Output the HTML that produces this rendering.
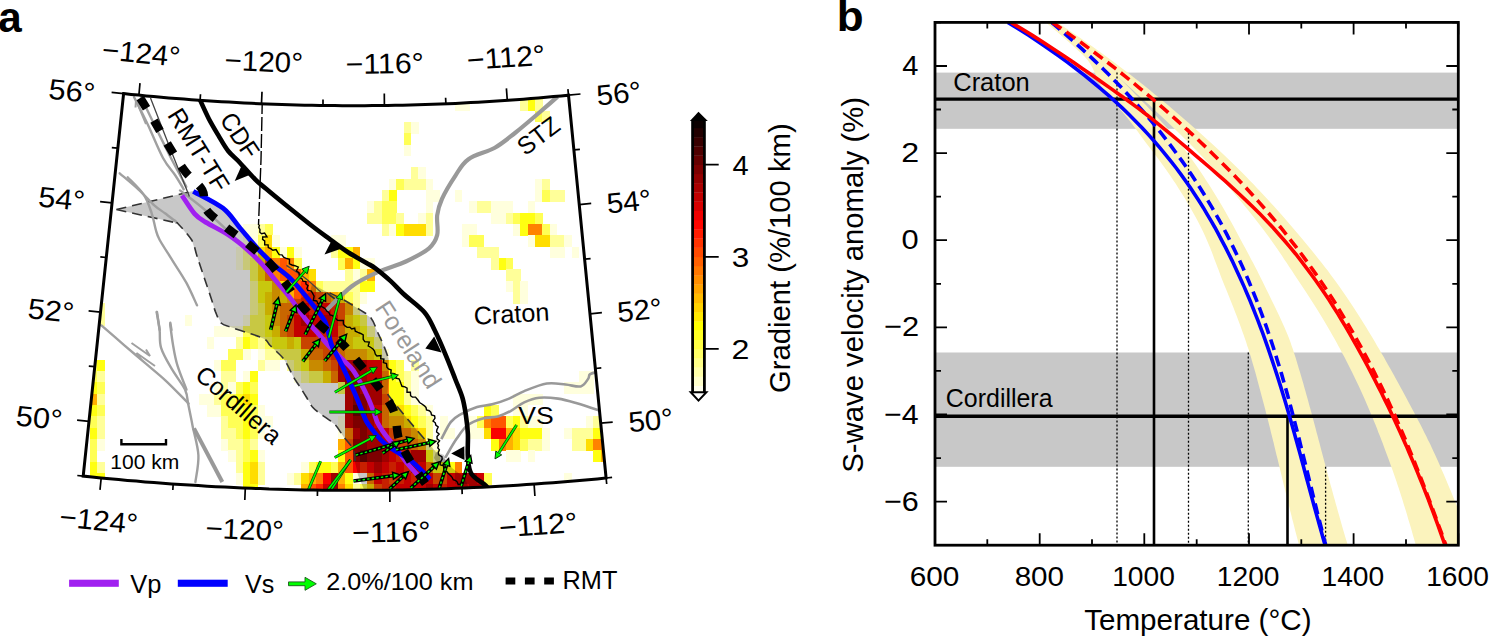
<!DOCTYPE html>
<html><head><meta charset="utf-8"><style>
html,body{margin:0;padding:0;background:#fff;overflow:hidden}
svg{display:block}
</style></head><body>
<svg width="1491" height="637" viewBox="0 0 1491 637">
<rect width="1491" height="637" fill="#fff"/>
<rect x="935.0" y="72.6" width="523.3" height="56.20000000000002" fill="#c8c8c8"/>
<rect x="935.0" y="352.5" width="523.3" height="114.30000000000001" fill="#c8c8c8"/>
<clipPath id="cb"><rect x="935.0" y="22.4" width="523.3" height="522.8000000000001"/></clipPath>
<g clip-path="url(#cb)">
<path d="M1046.0,22.4 L1050.5,26.2 L1054.9,29.9 L1059.3,33.7 L1063.6,37.4 L1067.9,41.2 L1072.1,45.0 L1076.2,48.7 L1080.3,52.5 L1084.3,56.3 L1087.6,60.0 L1090.2,63.8 L1092.3,67.5 L1094.1,71.3 L1095.8,75.1 L1097.4,78.8 L1099.2,82.6 L1101.2,86.3 L1103.4,90.1 L1106.0,93.9 L1109.0,97.6 L1112.3,101.4 L1116.0,105.1 L1119.6,108.9 L1123.0,112.7 L1126.2,116.4 L1129.2,120.2 L1132.1,124.0 L1134.9,127.7 L1137.7,131.5 L1140.4,135.2 L1143.1,139.0 L1145.9,142.8 L1148.8,146.5 L1151.7,150.3 L1154.6,154.0 L1157.4,157.8 L1160.2,161.6 L1162.9,165.3 L1165.6,169.1 L1168.2,172.8 L1170.8,176.6 L1173.4,180.4 L1175.9,184.1 L1178.3,187.9 L1180.7,191.7 L1183.1,195.4 L1185.4,199.2 L1187.6,202.9 L1189.8,206.7 L1191.9,210.5 L1194.0,214.2 L1196.1,218.0 L1198.1,221.7 L1200.0,225.5 L1201.9,229.3 L1203.7,233.0 L1205.4,236.8 L1207.0,240.5 L1208.6,244.3 L1210.2,248.1 L1211.7,251.8 L1213.1,255.6 L1214.5,259.4 L1215.9,263.1 L1217.4,266.9 L1218.8,270.6 L1220.2,274.4 L1221.6,278.2 L1223.1,281.9 L1224.6,285.7 L1226.2,289.4 L1227.7,293.2 L1229.2,297.0 L1230.7,300.7 L1232.2,304.5 L1233.7,308.2 L1235.1,312.0 L1236.6,315.8 L1238.0,319.5 L1239.4,323.3 L1240.8,327.1 L1242.1,330.8 L1243.5,334.6 L1244.8,338.3 L1246.1,342.1 L1247.3,345.9 L1248.6,349.6 L1249.8,353.4 L1250.9,357.1 L1252.0,360.9 L1253.1,364.7 L1254.2,368.4 L1255.3,372.2 L1256.3,375.9 L1257.3,379.7 L1258.3,383.5 L1259.3,387.2 L1260.3,391.0 L1261.3,394.8 L1262.3,398.5 L1263.3,402.3 L1264.3,406.0 L1265.3,409.8 L1266.2,413.6 L1267.2,417.3 L1268.2,421.1 L1269.1,424.8 L1270.1,428.6 L1271.0,432.4 L1271.9,436.1 L1272.9,439.9 L1273.8,443.6 L1274.7,447.4 L1275.6,451.2 L1276.5,454.9 L1277.5,458.7 L1278.4,462.5 L1279.3,466.2 L1280.2,470.0 L1281.1,473.7 L1282.0,477.5 L1282.9,481.3 L1283.8,485.0 L1284.8,488.8 L1285.7,492.5 L1286.6,496.3 L1287.5,500.1 L1288.5,503.8 L1289.4,507.6 L1290.3,511.3 L1291.3,515.1 L1292.2,518.9 L1293.2,522.6 L1294.2,526.4 L1295.1,530.2 L1296.1,533.9 L1297.1,537.7 L1298.1,541.4 L1299.1,545.2 L1347.8,545.2 L1346.7,541.4 L1345.5,537.7 L1344.4,533.9 L1343.3,530.2 L1342.2,526.4 L1341.1,522.6 L1340.1,518.9 L1339.0,515.1 L1337.9,511.3 L1336.9,507.6 L1335.8,503.8 L1334.8,500.1 L1333.7,496.3 L1332.7,492.5 L1331.7,488.8 L1330.6,485.0 L1329.6,481.3 L1328.6,477.5 L1327.6,473.7 L1326.6,470.0 L1325.6,466.2 L1324.6,462.5 L1323.6,458.7 L1322.6,454.9 L1321.6,451.2 L1320.6,447.4 L1319.6,443.6 L1318.6,439.9 L1317.6,436.1 L1316.6,432.4 L1315.6,428.6 L1314.6,424.8 L1313.6,421.1 L1312.6,417.3 L1311.6,413.6 L1310.6,409.8 L1309.5,406.0 L1308.5,402.3 L1307.5,398.5 L1306.4,394.8 L1305.4,391.0 L1304.3,387.2 L1303.3,383.5 L1302.2,379.7 L1301.1,375.9 L1300.0,372.2 L1298.8,368.4 L1297.7,364.7 L1296.6,360.9 L1295.4,357.1 L1294.2,353.4 L1293.0,349.6 L1291.7,345.9 L1290.4,342.1 L1289.0,338.3 L1287.5,334.6 L1285.9,330.8 L1284.3,327.1 L1282.6,323.3 L1280.9,319.5 L1279.2,315.8 L1277.4,312.0 L1275.6,308.2 L1273.8,304.5 L1271.9,300.7 L1270.1,297.0 L1268.3,293.2 L1266.4,289.4 L1264.6,285.7 L1262.8,281.9 L1260.9,278.2 L1259.0,274.4 L1257.1,270.6 L1255.2,266.9 L1253.2,263.1 L1251.2,259.4 L1249.2,255.6 L1247.2,251.8 L1245.2,248.1 L1243.1,244.3 L1241.1,240.5 L1239.1,236.8 L1237.1,233.0 L1235.1,229.3 L1233.1,225.5 L1231.0,221.7 L1228.9,218.0 L1226.8,214.2 L1224.7,210.5 L1222.5,206.7 L1220.3,202.9 L1218.0,199.2 L1215.7,195.4 L1213.4,191.7 L1211.1,187.9 L1208.6,184.1 L1206.2,180.4 L1203.7,176.6 L1201.2,172.8 L1198.7,169.1 L1196.1,165.3 L1193.4,161.6 L1190.7,157.8 L1188.0,154.0 L1185.2,150.3 L1182.4,146.5 L1179.5,142.8 L1176.5,139.0 L1173.4,135.2 L1170.2,131.5 L1166.9,127.7 L1163.5,124.0 L1160.1,120.2 L1156.6,116.4 L1153.0,112.7 L1149.5,108.9 L1145.9,105.1 L1142.3,101.4 L1138.7,97.6 L1135.0,93.9 L1131.3,90.1 L1127.6,86.3 L1123.8,82.6 L1120.0,78.8 L1116.1,75.1 L1112.1,71.3 L1108.2,67.5 L1104.1,63.8 L1100.0,60.0 L1095.9,56.3 L1091.7,52.5 L1087.5,48.7 L1083.2,45.0 L1078.9,41.2 L1074.5,37.4 L1070.1,33.7 L1065.6,29.9 L1061.1,26.2 L1056.5,22.4Z" fill="#fbf3bd"/>
<path d="M1047.3,22.4 L1052.7,26.2 L1057.9,29.9 L1063.1,33.7 L1068.3,37.4 L1073.3,41.2 L1078.3,45.0 L1083.2,48.7 L1088.0,52.5 L1092.8,56.3 L1097.5,60.0 L1102.1,63.8 L1106.7,67.5 L1111.2,71.3 L1115.6,75.1 L1120.0,78.8 L1124.3,82.6 L1128.6,86.3 L1132.8,90.1 L1137.0,93.9 L1141.1,97.6 L1145.3,101.4 L1149.4,105.1 L1153.5,108.9 L1157.5,112.7 L1161.6,116.4 L1165.6,120.2 L1169.5,124.0 L1173.5,127.7 L1177.4,131.5 L1181.2,135.2 L1185.0,139.0 L1188.8,142.8 L1192.5,146.5 L1196.2,150.3 L1199.8,154.0 L1203.3,157.8 L1206.8,161.6 L1210.2,165.3 L1213.5,169.1 L1216.8,172.8 L1220.1,176.6 L1223.3,180.4 L1226.5,184.1 L1229.7,187.9 L1232.9,191.7 L1236.0,195.4 L1239.1,199.2 L1242.3,202.9 L1245.3,206.7 L1248.4,210.5 L1251.4,214.2 L1254.4,218.0 L1257.3,221.7 L1260.2,225.5 L1263.1,229.3 L1265.9,233.0 L1268.7,236.8 L1271.4,240.5 L1274.0,244.3 L1276.7,248.1 L1279.2,251.8 L1281.8,255.6 L1284.3,259.4 L1286.8,263.1 L1289.3,266.9 L1291.8,270.6 L1294.3,274.4 L1296.8,278.2 L1299.3,281.9 L1301.8,285.7 L1304.3,289.4 L1306.8,293.2 L1309.2,297.0 L1311.6,300.7 L1314.0,304.5 L1316.4,308.2 L1318.7,312.0 L1321.0,315.8 L1323.3,319.5 L1325.5,323.3 L1327.7,327.1 L1329.9,330.8 L1332.0,334.6 L1334.2,338.3 L1336.3,342.1 L1338.4,345.9 L1340.4,349.6 L1342.4,353.4 L1344.4,357.1 L1346.4,360.9 L1348.3,364.7 L1350.2,368.4 L1352.1,372.2 L1353.9,375.9 L1355.7,379.7 L1357.5,383.5 L1359.3,387.2 L1361.0,391.0 L1362.7,394.8 L1364.4,398.5 L1366.0,402.3 L1367.6,406.0 L1369.2,409.8 L1370.8,413.6 L1372.4,417.3 L1373.9,421.1 L1375.5,424.8 L1377.0,428.6 L1378.4,432.4 L1379.9,436.1 L1381.4,439.9 L1382.8,443.6 L1384.2,447.4 L1385.6,451.2 L1387.0,454.9 L1388.4,458.7 L1389.8,462.5 L1391.1,466.2 L1392.5,470.0 L1393.8,473.7 L1395.1,477.5 L1396.4,481.3 L1397.6,485.0 L1398.9,488.8 L1400.1,492.5 L1401.3,496.3 L1402.5,500.1 L1403.6,503.8 L1404.8,507.6 L1406.0,511.3 L1407.1,515.1 L1408.2,518.9 L1409.3,522.6 L1410.5,526.4 L1411.6,530.2 L1412.6,533.9 L1413.7,537.7 L1414.8,541.4 L1415.9,545.2 L1471.9,545.2 L1470.5,541.4 L1469.1,537.7 L1467.7,533.9 L1466.3,530.2 L1464.8,526.4 L1463.4,522.6 L1461.9,518.9 L1460.5,515.1 L1459.0,511.3 L1457.5,507.6 L1456.0,503.8 L1454.4,500.1 L1452.9,496.3 L1451.4,492.5 L1449.8,488.8 L1448.2,485.0 L1446.7,481.3 L1445.1,477.5 L1443.5,473.7 L1441.8,470.0 L1440.2,466.2 L1438.6,462.5 L1436.9,458.7 L1435.2,454.9 L1433.4,451.2 L1431.7,447.4 L1429.9,443.6 L1428.0,439.9 L1426.2,436.1 L1424.3,432.4 L1422.4,428.6 L1420.5,424.8 L1418.5,421.1 L1416.6,417.3 L1414.6,413.6 L1412.6,409.8 L1410.6,406.0 L1408.6,402.3 L1406.6,398.5 L1404.6,394.8 L1402.6,391.0 L1400.5,387.2 L1398.5,383.5 L1396.4,379.7 L1394.4,375.9 L1392.3,372.2 L1390.2,368.4 L1388.0,364.7 L1385.9,360.9 L1383.8,357.1 L1381.6,353.4 L1379.4,349.6 L1377.2,345.9 L1375.0,342.1 L1372.8,338.3 L1370.5,334.6 L1368.2,330.8 L1366.0,327.1 L1363.6,323.3 L1361.3,319.5 L1358.9,315.8 L1356.5,312.0 L1354.1,308.2 L1351.6,304.5 L1349.1,300.7 L1346.6,297.0 L1344.0,293.2 L1341.4,289.4 L1338.8,285.7 L1336.1,281.9 L1333.3,278.2 L1330.5,274.4 L1327.7,270.6 L1324.8,266.9 L1321.8,263.1 L1318.9,259.4 L1315.8,255.6 L1312.8,251.8 L1309.7,248.1 L1306.6,244.3 L1303.5,240.5 L1300.4,236.8 L1297.2,233.0 L1294.0,229.3 L1290.8,225.5 L1287.6,221.7 L1284.4,218.0 L1281.1,214.2 L1277.7,210.5 L1274.4,206.7 L1270.9,202.9 L1267.5,199.2 L1264.0,195.4 L1260.5,191.7 L1256.9,187.9 L1253.3,184.1 L1249.7,180.4 L1246.0,176.6 L1242.3,172.8 L1238.5,169.1 L1234.7,165.3 L1230.8,161.6 L1226.9,157.8 L1223.0,154.0 L1219.0,150.3 L1215.0,146.5 L1210.9,142.8 L1206.7,139.0 L1202.6,135.2 L1198.4,131.5 L1194.1,127.7 L1189.9,124.0 L1185.5,120.2 L1181.2,116.4 L1176.8,112.7 L1172.4,108.9 L1167.9,105.1 L1163.4,101.4 L1158.9,97.6 L1154.3,93.9 L1149.7,90.1 L1145.0,86.3 L1140.3,82.6 L1135.5,78.8 L1130.7,75.1 L1125.9,71.3 L1120.9,67.5 L1116.0,63.8 L1111.0,60.0 L1105.9,56.3 L1100.7,52.5 L1095.5,48.7 L1090.3,45.0 L1085.0,41.2 L1079.6,37.4 L1074.1,33.7 L1068.6,29.9 L1063.0,26.2 L1057.4,22.4Z" fill="#fbf3bd"/>
</g>
<line x1="935.0" x2="1458.3" y1="99.1" y2="99.1" stroke="#000" stroke-width="3.4"/>
<line x1="935.0" x2="1458.3" y1="416.3" y2="416.3" stroke="#000" stroke-width="3.4"/>
<line x1="1117" x2="1117" y1="72.6" y2="545.2" stroke="#000" stroke-width="1.3" stroke-dasharray="2 2"/>
<line x1="1154" x2="1154" y1="99.1" y2="545.2" stroke="#000" stroke-width="2.6"/>
<line x1="1188.5" x2="1188.5" y1="128.8" y2="545.2" stroke="#000" stroke-width="1.3" stroke-dasharray="2 2"/>
<line x1="1248.3" x2="1248.3" y1="352.5" y2="545.2" stroke="#000" stroke-width="1.3" stroke-dasharray="2 2"/>
<line x1="1287.5" x2="1287.5" y1="416.3" y2="545.2" stroke="#000" stroke-width="2.6"/>
<line x1="1325.6" x2="1325.6" y1="466.8" y2="545.2" stroke="#000" stroke-width="1.3" stroke-dasharray="2 2"/>
<g clip-path="url(#cb)" fill="none" stroke-width="3.6">
<path d="M1051.5,22.4 L1059.3,29.0 L1067.0,35.6 L1074.5,42.3 L1081.9,48.9 L1089.1,55.5 L1096.1,62.1 L1102.9,68.7 L1109.5,75.3 L1116.0,82.0 L1122.4,88.6 L1128.6,95.2 L1134.6,101.8 L1140.5,108.4 L1146.2,115.0 L1151.8,121.7 L1157.2,128.3 L1162.5,134.9 L1167.6,141.5 L1172.6,148.1 L1177.5,154.8 L1182.3,161.4 L1186.9,168.0 L1191.4,174.6 L1195.8,181.2 L1200.0,187.8 L1204.2,194.5 L1208.2,201.1 L1212.1,207.7 L1215.9,214.3 L1219.6,220.9 L1223.2,227.5 L1226.7,234.2 L1230.0,240.8 L1233.3,247.4 L1236.5,254.0 L1239.6,260.6 L1242.7,267.3 L1245.6,273.9 L1248.5,280.5 L1251.2,287.1 L1253.9,293.7 L1256.6,300.3 L1259.1,307.0 L1261.6,313.6 L1264.0,320.2 L1266.4,326.8 L1268.6,333.4 L1270.9,340.1 L1273.1,346.7 L1275.2,353.3 L1277.2,359.9 L1279.3,366.5 L1281.3,373.1 L1283.2,379.8 L1285.1,386.4 L1287.0,393.0 L1288.8,399.6 L1290.6,406.2 L1292.3,412.8 L1294.1,419.5 L1295.8,426.1 L1297.5,432.7 L1299.2,439.3 L1300.8,445.9 L1302.5,452.6 L1304.1,459.2 L1305.8,465.8 L1307.4,472.4 L1309.0,479.0 L1310.7,485.6 L1312.3,492.3 L1313.9,498.9 L1315.6,505.5 L1317.2,512.1 L1318.9,518.7 L1320.6,525.3 L1322.3,532.0 L1324.0,538.6 L1325.8,545.2" stroke="#0000ff" stroke-dasharray="11 6"/>
<path d="M1052.3,22.4 L1062.0,29.0 L1071.4,35.6 L1080.7,42.3 L1089.7,48.9 L1098.5,55.5 L1107.2,62.1 L1115.7,68.7 L1124.0,75.3 L1132.2,82.0 L1140.2,88.6 L1148.1,95.2 L1155.9,101.8 L1163.5,108.4 L1171.0,115.0 L1178.4,121.7 L1185.6,128.3 L1192.8,134.9 L1199.9,141.5 L1206.8,148.1 L1213.6,154.8 L1220.4,161.4 L1227.0,168.0 L1233.4,174.6 L1239.8,181.2 L1246.0,187.8 L1252.1,194.5 L1258.1,201.1 L1263.9,207.7 L1269.6,214.3 L1275.2,220.9 L1280.7,227.5 L1286.0,234.2 L1291.2,240.8 L1296.4,247.4 L1301.4,254.0 L1306.2,260.6 L1311.0,267.3 L1315.7,273.9 L1320.3,280.5 L1324.7,287.1 L1329.1,293.7 L1333.4,300.3 L1337.6,307.0 L1341.6,313.6 L1345.6,320.2 L1349.6,326.8 L1353.4,333.4 L1357.1,340.1 L1360.8,346.7 L1364.4,353.3 L1367.9,359.9 L1371.4,366.5 L1374.7,373.1 L1378.0,379.8 L1381.3,386.4 L1384.5,393.0 L1387.6,399.6 L1390.6,406.2 L1393.7,412.8 L1396.6,419.5 L1399.5,426.1 L1402.4,432.7 L1405.2,439.3 L1407.9,445.9 L1410.7,452.6 L1413.4,459.2 L1416.0,465.8 L1418.6,472.4 L1421.2,479.0 L1423.8,485.6 L1426.3,492.3 L1428.8,498.9 L1431.3,505.5 L1433.8,512.1 L1436.2,518.7 L1438.6,525.3 L1441.1,532.0 L1443.5,538.6 L1445.9,545.2" stroke="#ff0000" stroke-dasharray="11 6"/>
<path d="M1007.9,22.4 L1018.6,29.0 L1029.0,35.6 L1039.0,42.3 L1048.8,48.9 L1058.2,55.5 L1067.2,62.1 L1076.0,68.7 L1084.5,75.3 L1092.7,82.0 L1100.6,88.6 L1108.2,95.2 L1115.6,101.8 L1122.7,108.4 L1129.5,115.0 L1136.1,121.7 L1142.5,128.3 L1148.6,134.9 L1154.5,141.5 L1160.2,148.1 L1165.7,154.8 L1171.0,161.4 L1176.2,168.0 L1181.1,174.6 L1185.8,181.2 L1190.4,187.8 L1194.8,194.5 L1199.1,201.1 L1203.3,207.7 L1207.2,214.3 L1211.1,220.9 L1214.9,227.5 L1218.5,234.2 L1222.0,240.8 L1225.5,247.4 L1228.8,254.0 L1232.1,260.6 L1235.2,267.3 L1238.3,273.9 L1241.3,280.5 L1244.3,287.1 L1247.1,293.7 L1249.9,300.3 L1252.6,307.0 L1255.2,313.6 L1257.8,320.2 L1260.3,326.8 L1262.8,333.4 L1265.2,340.1 L1267.5,346.7 L1269.8,353.3 L1272.0,359.9 L1274.2,366.5 L1276.4,373.1 L1278.5,379.8 L1280.6,386.4 L1282.6,393.0 L1284.6,399.6 L1286.6,406.2 L1288.5,412.8 L1290.4,419.5 L1292.3,426.1 L1294.2,432.7 L1296.0,439.3 L1297.8,445.9 L1299.7,452.6 L1301.5,459.2 L1303.3,465.8 L1305.0,472.4 L1306.8,479.0 L1308.6,485.6 L1310.4,492.3 L1312.2,498.9 L1314.0,505.5 L1315.8,512.1 L1317.7,518.7 L1319.5,525.3 L1321.4,532.0 L1323.2,538.6 L1325.1,545.2" stroke="#0000ff"/>
<path d="M1011.0,22.4 L1022.1,29.0 L1032.8,35.6 L1043.2,42.3 L1053.4,48.9 L1063.3,55.5 L1073.0,62.1 L1082.6,68.7 L1092.2,75.3 L1101.6,82.0 L1111.0,88.6 L1120.3,95.2 L1129.4,101.8 L1138.3,108.4 L1147.0,115.0 L1155.4,121.7 L1163.6,128.3 L1171.6,134.9 L1179.4,141.5 L1187.2,148.1 L1194.9,154.8 L1202.6,161.4 L1210.3,168.0 L1217.8,174.6 L1225.3,181.2 L1232.6,187.8 L1239.8,194.5 L1246.8,201.1 L1253.7,207.7 L1260.3,214.3 L1266.7,220.9 L1272.9,227.5 L1278.8,234.2 L1284.6,240.8 L1290.2,247.4 L1295.7,254.0 L1300.9,260.6 L1306.0,267.3 L1310.9,273.9 L1315.7,280.5 L1320.4,287.1 L1324.9,293.7 L1329.3,300.3 L1333.5,307.0 L1337.7,313.6 L1341.7,320.2 L1345.7,326.8 L1349.5,333.4 L1353.3,340.1 L1357.0,346.7 L1360.7,353.3 L1364.3,359.9 L1367.8,366.5 L1371.3,373.1 L1374.8,379.8 L1378.1,386.4 L1381.5,393.0 L1384.7,399.6 L1388.0,406.2 L1391.1,412.8 L1394.3,419.5 L1397.3,426.1 L1400.4,432.7 L1403.3,439.3 L1406.3,445.9 L1409.1,452.6 L1412.0,459.2 L1414.8,465.8 L1417.5,472.4 L1420.2,479.0 L1422.9,485.6 L1425.5,492.3 L1428.1,498.9 L1430.6,505.5 L1433.1,512.1 L1435.5,518.7 L1438.0,525.3 L1440.3,532.0 L1442.7,538.6 L1445.0,545.2" stroke="#ff0000"/>
</g>
<rect x="935.0" y="22.4" width="523.3" height="522.8000000000001" fill="none" stroke="#000" stroke-width="2.8"/>
<path d="M935.0,545.2v-12M935.0,22.4v12M987.3,545.2v-6M987.3,22.4v6M1039.7,545.2v-12M1039.7,22.4v12M1092.0,545.2v-6M1092.0,22.4v6M1144.3,545.2v-12M1144.3,22.4v12M1196.7,545.2v-6M1196.7,22.4v6M1249.0,545.2v-12M1249.0,22.4v12M1301.3,545.2v-6M1301.3,22.4v6M1353.6,545.2v-12M1353.6,22.4v12M1406.0,545.2v-6M1406.0,22.4v6M1458.3,545.2v-12M1458.3,22.4v12M935.0,545.2h6M1458.3,545.2h-6M935.0,501.6h12M1458.3,501.6h-12M935.0,458.1h6M1458.3,458.1h-6M935.0,414.5h12M1458.3,414.5h-12M935.0,370.9h6M1458.3,370.9h-6M935.0,327.4h12M1458.3,327.4h-12M935.0,283.8h6M1458.3,283.8h-6M935.0,240.2h12M1458.3,240.2h-12M935.0,196.7h6M1458.3,196.7h-6M935.0,153.1h12M1458.3,153.1h-12M935.0,109.5h6M1458.3,109.5h-6M935.0,66.0h12M1458.3,66.0h-12M935.0,22.4h6M1458.3,22.4h-6" stroke="#000" stroke-width="1.8" fill="none"/>
<clipPath id="cmap"><path d="M123.6,93.6 L131.1,94.4 L138.6,95.1 L146.1,95.9 L153.6,96.6 L161.2,97.2 L168.7,97.9 L176.2,98.5 L183.8,99.1 L191.3,99.7 L198.8,100.2 L206.4,100.7 L213.9,101.2 L221.4,101.7 L229.0,102.1 L236.5,102.6 L244.1,103.0 L251.6,103.3 L259.2,103.7 L266.7,104.0 L274.3,104.3 L281.8,104.5 L289.4,104.8 L296.9,105.0 L304.5,105.2 L312.0,105.3 L319.6,105.4 L327.1,105.5 L334.7,105.6 L342.2,105.7 L349.8,105.7 L357.3,105.7 L364.9,105.7 L372.4,105.6 L380.0,105.6 L387.6,105.5 L395.1,105.3 L402.7,105.2 L410.2,105.0 L417.8,104.8 L425.3,104.6 L432.9,104.3 L440.4,104.0 L448.0,103.7 L455.5,103.4 L463.1,103.0 L470.6,102.6 L478.1,102.2 L485.7,101.8 L493.2,101.3 L500.8,100.8 L508.3,100.3 L515.8,99.7 L523.4,99.2 L530.9,98.6 L538.4,98.0 L546.0,97.3 L553.5,96.6 L561.0,95.9 L568.5,95.2 L606.1,478.0 L597.3,478.9 L588.4,479.7 L579.6,480.5 L570.7,481.2 L561.9,482.0 L553.0,482.7 L544.2,483.3 L535.3,484.0 L526.5,484.6 L517.6,485.2 L508.8,485.7 L499.9,486.2 L491.0,486.7 L482.2,487.2 L473.3,487.6 L464.4,488.0 L455.6,488.3 L446.7,488.7 L437.8,489.0 L428.9,489.3 L420.1,489.5 L411.2,489.7 L402.3,489.9 L393.4,490.0 L384.6,490.2 L375.7,490.3 L366.8,490.3 L357.9,490.3 L349.0,490.3 L340.2,490.3 L331.3,490.2 L322.4,490.2 L313.5,490.0 L304.7,489.9 L295.8,489.7 L286.9,489.5 L278.0,489.2 L269.2,489.0 L260.3,488.6 L251.4,488.3 L242.6,487.9 L233.7,487.5 L224.8,487.1 L215.9,486.7 L207.1,486.2 L198.2,485.6 L189.4,485.1 L180.5,484.5 L171.6,483.9 L162.8,483.3 L153.9,482.6 L145.1,481.9 L136.2,481.1 L127.4,480.4 L118.6,479.6 L109.7,478.8 L100.9,477.9 L92.0,477.0 L83.2,476.1Z"/></clipPath><g clip-path="url(#cmap)"><g shape-rendering="crispEdges"><rect x="89.70" y="359.82" width="7.6" height="11.63" fill="rgb(255,255,85)"/><rect x="89.70" y="371.15" width="7.6" height="11.63" fill="rgb(255,255,85)"/><rect x="89.70" y="382.48" width="7.6" height="11.63" fill="rgb(255,255,17)"/><rect x="89.70" y="393.80" width="7.6" height="11.63" fill="rgb(255,176,0)"/><rect x="89.70" y="405.12" width="7.6" height="11.63" fill="rgb(255,255,17)"/><rect x="89.70" y="416.45" width="7.6" height="11.63" fill="rgb(255,255,85)"/><rect x="89.70" y="427.77" width="7.6" height="11.63" fill="rgb(255,255,17)"/><rect x="89.70" y="439.10" width="7.6" height="11.63" fill="rgb(255,255,85)"/><rect x="89.70" y="450.43" width="7.6" height="11.63" fill="rgb(255,255,85)"/><rect x="89.70" y="461.75" width="7.6" height="11.63" fill="rgb(255,255,17)"/><rect x="89.70" y="473.07" width="7.6" height="11.63" fill="rgb(255,255,17)"/><rect x="89.70" y="484.40" width="7.6" height="11.63" fill="rgb(255,255,17)"/><rect x="97.00" y="303.20" width="7.6" height="11.63" fill="rgb(255,255,153)"/><rect x="97.00" y="314.52" width="7.6" height="11.63" fill="rgb(255,255,153)"/><rect x="97.00" y="359.82" width="7.6" height="11.63" fill="rgb(255,255,17)"/><rect x="97.00" y="371.15" width="7.6" height="11.63" fill="rgb(255,255,153)"/><rect x="97.00" y="382.48" width="7.6" height="11.63" fill="rgb(255,255,85)"/><rect x="97.00" y="393.80" width="7.6" height="11.63" fill="rgb(255,255,153)"/><rect x="97.00" y="405.12" width="7.6" height="11.63" fill="rgb(255,255,85)"/><rect x="97.00" y="416.45" width="7.6" height="11.63" fill="rgb(255,255,153)"/><rect x="97.00" y="427.77" width="7.6" height="11.63" fill="rgb(255,255,153)"/><rect x="97.00" y="439.10" width="7.6" height="11.63" fill="rgb(255,255,221)"/><rect x="97.00" y="461.75" width="7.6" height="11.63" fill="rgb(255,255,153)"/><rect x="97.00" y="473.07" width="7.6" height="11.63" fill="rgb(255,255,17)"/><rect x="97.00" y="484.40" width="7.6" height="11.63" fill="rgb(255,255,85)"/><rect x="184.60" y="314.52" width="7.6" height="11.63" fill="rgb(255,255,221)"/><rect x="199.20" y="393.80" width="7.6" height="11.63" fill="rgb(255,255,221)"/><rect x="206.50" y="337.18" width="7.6" height="11.63" fill="rgb(255,255,221)"/><rect x="206.50" y="393.80" width="7.6" height="11.63" fill="rgb(255,255,221)"/><rect x="206.50" y="405.12" width="7.6" height="11.63" fill="rgb(255,255,221)"/><rect x="213.80" y="325.85" width="7.6" height="11.63" fill="rgb(255,255,221)"/><rect x="213.80" y="359.82" width="7.6" height="11.63" fill="rgb(255,255,221)"/><rect x="213.80" y="382.48" width="7.6" height="11.63" fill="rgb(255,255,221)"/><rect x="213.80" y="393.80" width="7.6" height="11.63" fill="rgb(255,255,153)"/><rect x="213.80" y="405.12" width="7.6" height="11.63" fill="rgb(255,255,221)"/><rect x="221.10" y="325.85" width="7.6" height="11.63" fill="rgb(255,255,221)"/><rect x="221.10" y="359.82" width="7.6" height="11.63" fill="rgb(255,255,85)"/><rect x="221.10" y="371.15" width="7.6" height="11.63" fill="rgb(255,255,153)"/><rect x="221.10" y="382.48" width="7.6" height="11.63" fill="rgb(255,255,153)"/><rect x="221.10" y="393.80" width="7.6" height="11.63" fill="rgb(255,255,85)"/><rect x="221.10" y="405.12" width="7.6" height="11.63" fill="rgb(255,255,85)"/><rect x="221.10" y="416.45" width="7.6" height="11.63" fill="rgb(255,255,153)"/><rect x="221.10" y="427.77" width="7.6" height="11.63" fill="rgb(255,255,153)"/><rect x="221.10" y="439.10" width="7.6" height="11.63" fill="rgb(255,255,221)"/><rect x="228.40" y="325.85" width="7.6" height="11.63" fill="rgb(255,255,221)"/><rect x="228.40" y="348.50" width="7.6" height="11.63" fill="rgb(255,255,85)"/><rect x="228.40" y="359.82" width="7.6" height="11.63" fill="rgb(255,255,85)"/><rect x="228.40" y="371.15" width="7.6" height="11.63" fill="rgb(255,255,153)"/><rect x="228.40" y="382.48" width="7.6" height="11.63" fill="rgb(255,255,221)"/><rect x="228.40" y="393.80" width="7.6" height="11.63" fill="rgb(255,255,85)"/><rect x="228.40" y="405.12" width="7.6" height="11.63" fill="rgb(255,255,85)"/><rect x="228.40" y="416.45" width="7.6" height="11.63" fill="rgb(255,255,85)"/><rect x="228.40" y="427.77" width="7.6" height="11.63" fill="rgb(255,255,153)"/><rect x="228.40" y="439.10" width="7.6" height="11.63" fill="rgb(255,255,153)"/><rect x="228.40" y="450.43" width="7.6" height="11.63" fill="rgb(255,255,221)"/><rect x="235.70" y="246.57" width="7.6" height="11.63" fill="rgb(255,255,221)"/><rect x="235.70" y="257.90" width="7.6" height="11.63" fill="rgb(255,255,221)"/><rect x="235.70" y="325.85" width="7.6" height="11.63" fill="rgb(255,255,221)"/><rect x="235.70" y="337.18" width="7.6" height="11.63" fill="rgb(255,255,153)"/><rect x="235.70" y="348.50" width="7.6" height="11.63" fill="rgb(255,255,85)"/><rect x="235.70" y="382.48" width="7.6" height="11.63" fill="rgb(255,255,85)"/><rect x="235.70" y="393.80" width="7.6" height="11.63" fill="rgb(255,255,17)"/><rect x="235.70" y="405.12" width="7.6" height="11.63" fill="rgb(255,255,85)"/><rect x="235.70" y="416.45" width="7.6" height="11.63" fill="rgb(255,255,85)"/><rect x="235.70" y="427.77" width="7.6" height="11.63" fill="rgb(255,255,85)"/><rect x="235.70" y="439.10" width="7.6" height="11.63" fill="rgb(255,255,153)"/><rect x="235.70" y="450.43" width="7.6" height="11.63" fill="rgb(255,255,153)"/><rect x="235.70" y="461.75" width="7.6" height="11.63" fill="rgb(255,255,153)"/><rect x="235.70" y="473.07" width="7.6" height="11.63" fill="rgb(255,255,221)"/><rect x="243.00" y="223.93" width="7.6" height="11.63" fill="rgb(255,255,221)"/><rect x="243.00" y="235.25" width="7.6" height="11.63" fill="rgb(255,255,221)"/><rect x="243.00" y="246.57" width="7.6" height="11.63" fill="rgb(255,255,153)"/><rect x="243.00" y="257.90" width="7.6" height="11.63" fill="rgb(255,255,153)"/><rect x="243.00" y="314.52" width="7.6" height="11.63" fill="rgb(255,255,221)"/><rect x="243.00" y="325.85" width="7.6" height="11.63" fill="rgb(255,255,85)"/><rect x="243.00" y="337.18" width="7.6" height="11.63" fill="rgb(255,255,17)"/><rect x="243.00" y="348.50" width="7.6" height="11.63" fill="rgb(255,255,221)"/><rect x="243.00" y="371.15" width="7.6" height="11.63" fill="rgb(255,255,221)"/><rect x="243.00" y="382.48" width="7.6" height="11.63" fill="rgb(255,255,17)"/><rect x="243.00" y="393.80" width="7.6" height="11.63" fill="rgb(255,221,0)"/><rect x="243.00" y="405.12" width="7.6" height="11.63" fill="rgb(255,255,17)"/><rect x="243.00" y="416.45" width="7.6" height="11.63" fill="rgb(255,255,17)"/><rect x="243.00" y="427.77" width="7.6" height="11.63" fill="rgb(255,255,17)"/><rect x="243.00" y="439.10" width="7.6" height="11.63" fill="rgb(255,255,85)"/><rect x="243.00" y="450.43" width="7.6" height="11.63" fill="rgb(255,255,85)"/><rect x="243.00" y="461.75" width="7.6" height="11.63" fill="rgb(255,255,17)"/><rect x="243.00" y="473.07" width="7.6" height="11.63" fill="rgb(255,255,17)"/><rect x="243.00" y="484.40" width="7.6" height="11.63" fill="rgb(255,255,17)"/><rect x="250.30" y="223.93" width="7.6" height="11.63" fill="rgb(255,255,221)"/><rect x="250.30" y="235.25" width="7.6" height="11.63" fill="rgb(255,255,221)"/><rect x="250.30" y="246.57" width="7.6" height="11.63" fill="rgb(255,255,153)"/><rect x="250.30" y="257.90" width="7.6" height="11.63" fill="rgb(255,255,85)"/><rect x="250.30" y="269.23" width="7.6" height="11.63" fill="rgb(255,255,85)"/><rect x="250.30" y="280.55" width="7.6" height="11.63" fill="rgb(255,255,153)"/><rect x="250.30" y="291.88" width="7.6" height="11.63" fill="rgb(255,255,153)"/><rect x="250.30" y="303.20" width="7.6" height="11.63" fill="rgb(255,255,153)"/><rect x="250.30" y="314.52" width="7.6" height="11.63" fill="rgb(255,255,85)"/><rect x="250.30" y="325.85" width="7.6" height="11.63" fill="rgb(255,255,85)"/><rect x="250.30" y="337.18" width="7.6" height="11.63" fill="rgb(255,255,85)"/><rect x="250.30" y="371.15" width="7.6" height="11.63" fill="rgb(255,255,17)"/><rect x="250.30" y="382.48" width="7.6" height="11.63" fill="rgb(255,255,85)"/><rect x="250.30" y="393.80" width="7.6" height="11.63" fill="rgb(255,255,17)"/><rect x="250.30" y="405.12" width="7.6" height="11.63" fill="rgb(255,255,85)"/><rect x="250.30" y="416.45" width="7.6" height="11.63" fill="rgb(255,255,85)"/><rect x="250.30" y="427.77" width="7.6" height="11.63" fill="rgb(255,255,85)"/><rect x="250.30" y="439.10" width="7.6" height="11.63" fill="rgb(255,255,153)"/><rect x="250.30" y="450.43" width="7.6" height="11.63" fill="rgb(255,255,17)"/><rect x="250.30" y="461.75" width="7.6" height="11.63" fill="rgb(255,221,0)"/><rect x="250.30" y="473.07" width="7.6" height="11.63" fill="rgb(255,221,0)"/><rect x="250.30" y="484.40" width="7.6" height="11.63" fill="rgb(255,255,17)"/><rect x="257.60" y="223.93" width="7.6" height="11.63" fill="rgb(255,255,153)"/><rect x="257.60" y="235.25" width="7.6" height="11.63" fill="rgb(255,255,85)"/><rect x="257.60" y="246.57" width="7.6" height="11.63" fill="rgb(255,221,0)"/><rect x="257.60" y="257.90" width="7.6" height="11.63" fill="rgb(255,221,0)"/><rect x="257.60" y="269.23" width="7.6" height="11.63" fill="rgb(255,221,0)"/><rect x="257.60" y="280.55" width="7.6" height="11.63" fill="rgb(255,255,17)"/><rect x="257.60" y="291.88" width="7.6" height="11.63" fill="rgb(255,255,17)"/><rect x="257.60" y="303.20" width="7.6" height="11.63" fill="rgb(255,255,85)"/><rect x="257.60" y="314.52" width="7.6" height="11.63" fill="rgb(255,255,85)"/><rect x="257.60" y="325.85" width="7.6" height="11.63" fill="rgb(255,255,85)"/><rect x="257.60" y="337.18" width="7.6" height="11.63" fill="rgb(255,255,153)"/><rect x="257.60" y="348.50" width="7.6" height="11.63" fill="rgb(255,255,221)"/><rect x="257.60" y="359.82" width="7.6" height="11.63" fill="rgb(255,255,153)"/><rect x="257.60" y="405.12" width="7.6" height="11.63" fill="rgb(255,255,221)"/><rect x="257.60" y="416.45" width="7.6" height="11.63" fill="rgb(255,255,221)"/><rect x="257.60" y="427.77" width="7.6" height="11.63" fill="rgb(255,255,221)"/><rect x="257.60" y="450.43" width="7.6" height="11.63" fill="rgb(255,255,221)"/><rect x="257.60" y="461.75" width="7.6" height="11.63" fill="rgb(255,255,153)"/><rect x="257.60" y="473.07" width="7.6" height="11.63" fill="rgb(255,255,153)"/><rect x="264.90" y="223.93" width="7.6" height="11.63" fill="rgb(255,255,85)"/><rect x="264.90" y="235.25" width="7.6" height="11.63" fill="rgb(255,221,0)"/><rect x="264.90" y="246.57" width="7.6" height="11.63" fill="rgb(255,176,0)"/><rect x="264.90" y="257.90" width="7.6" height="11.63" fill="rgb(255,85,0)"/><rect x="264.90" y="269.23" width="7.6" height="11.63" fill="rgb(255,130,0)"/><rect x="264.90" y="280.55" width="7.6" height="11.63" fill="rgb(255,255,17)"/><rect x="264.90" y="291.88" width="7.6" height="11.63" fill="rgb(255,221,0)"/><rect x="264.90" y="303.20" width="7.6" height="11.63" fill="rgb(255,221,0)"/><rect x="264.90" y="314.52" width="7.6" height="11.63" fill="rgb(255,255,17)"/><rect x="264.90" y="325.85" width="7.6" height="11.63" fill="rgb(255,255,17)"/><rect x="264.90" y="337.18" width="7.6" height="11.63" fill="rgb(255,255,85)"/><rect x="264.90" y="348.50" width="7.6" height="11.63" fill="rgb(255,255,153)"/><rect x="264.90" y="359.82" width="7.6" height="11.63" fill="rgb(255,255,221)"/><rect x="264.90" y="416.45" width="7.6" height="11.63" fill="rgb(255,255,221)"/><rect x="272.20" y="235.25" width="7.6" height="11.63" fill="rgb(255,255,221)"/><rect x="272.20" y="246.57" width="7.6" height="11.63" fill="rgb(255,255,17)"/><rect x="272.20" y="257.90" width="7.6" height="11.63" fill="rgb(255,130,0)"/><rect x="272.20" y="269.23" width="7.6" height="11.63" fill="rgb(255,130,0)"/><rect x="272.20" y="280.55" width="7.6" height="11.63" fill="rgb(255,176,0)"/><rect x="272.20" y="291.88" width="7.6" height="11.63" fill="rgb(255,176,0)"/><rect x="272.20" y="303.20" width="7.6" height="11.63" fill="rgb(255,176,0)"/><rect x="272.20" y="314.52" width="7.6" height="11.63" fill="rgb(255,176,0)"/><rect x="272.20" y="325.85" width="7.6" height="11.63" fill="rgb(255,221,0)"/><rect x="272.20" y="337.18" width="7.6" height="11.63" fill="rgb(255,255,17)"/><rect x="272.20" y="348.50" width="7.6" height="11.63" fill="rgb(255,255,153)"/><rect x="272.20" y="359.82" width="7.6" height="11.63" fill="rgb(255,255,221)"/><rect x="279.50" y="246.57" width="7.6" height="11.63" fill="rgb(255,255,221)"/><rect x="279.50" y="257.90" width="7.6" height="11.63" fill="rgb(255,85,0)"/><rect x="279.50" y="269.23" width="7.6" height="11.63" fill="rgb(255,85,0)"/><rect x="279.50" y="280.55" width="7.6" height="11.63" fill="rgb(255,221,0)"/><rect x="279.50" y="291.88" width="7.6" height="11.63" fill="rgb(255,221,0)"/><rect x="279.50" y="303.20" width="7.6" height="11.63" fill="rgb(255,130,0)"/><rect x="279.50" y="314.52" width="7.6" height="11.63" fill="rgb(255,130,0)"/><rect x="279.50" y="325.85" width="7.6" height="11.63" fill="rgb(255,130,0)"/><rect x="279.50" y="337.18" width="7.6" height="11.63" fill="rgb(255,255,17)"/><rect x="279.50" y="348.50" width="7.6" height="11.63" fill="rgb(255,255,85)"/><rect x="286.80" y="246.57" width="7.6" height="11.63" fill="rgb(255,255,17)"/><rect x="286.80" y="257.90" width="7.6" height="11.63" fill="rgb(255,130,0)"/><rect x="286.80" y="269.23" width="7.6" height="11.63" fill="rgb(255,85,0)"/><rect x="286.80" y="280.55" width="7.6" height="11.63" fill="rgb(255,176,0)"/><rect x="286.80" y="291.88" width="7.6" height="11.63" fill="rgb(255,176,0)"/><rect x="286.80" y="303.20" width="7.6" height="11.63" fill="rgb(255,130,0)"/><rect x="286.80" y="314.52" width="7.6" height="11.63" fill="rgb(255,85,0)"/><rect x="286.80" y="325.85" width="7.6" height="11.63" fill="rgb(255,85,0)"/><rect x="286.80" y="337.18" width="7.6" height="11.63" fill="rgb(255,221,0)"/><rect x="286.80" y="348.50" width="7.6" height="11.63" fill="rgb(255,255,85)"/><rect x="286.80" y="359.82" width="7.6" height="11.63" fill="rgb(255,255,153)"/><rect x="286.80" y="473.07" width="7.6" height="11.63" fill="rgb(255,255,221)"/><rect x="294.10" y="246.57" width="7.6" height="11.63" fill="rgb(255,255,221)"/><rect x="294.10" y="257.90" width="7.6" height="11.63" fill="rgb(255,255,85)"/><rect x="294.10" y="269.23" width="7.6" height="11.63" fill="rgb(255,85,0)"/><rect x="294.10" y="280.55" width="7.6" height="11.63" fill="rgb(255,85,0)"/><rect x="294.10" y="291.88" width="7.6" height="11.63" fill="rgb(255,85,0)"/><rect x="294.10" y="303.20" width="7.6" height="11.63" fill="rgb(255,40,0)"/><rect x="294.10" y="314.52" width="7.6" height="11.63" fill="rgb(249,0,0)"/><rect x="294.10" y="325.85" width="7.6" height="11.63" fill="rgb(249,0,0)"/><rect x="294.10" y="337.18" width="7.6" height="11.63" fill="rgb(255,255,17)"/><rect x="294.10" y="348.50" width="7.6" height="11.63" fill="rgb(255,255,85)"/><rect x="294.10" y="359.82" width="7.6" height="11.63" fill="rgb(255,255,85)"/><rect x="294.10" y="371.15" width="7.6" height="11.63" fill="rgb(255,255,221)"/><rect x="294.10" y="473.07" width="7.6" height="11.63" fill="rgb(255,255,153)"/><rect x="301.40" y="269.23" width="7.6" height="11.63" fill="rgb(255,176,0)"/><rect x="301.40" y="280.55" width="7.6" height="11.63" fill="rgb(255,40,0)"/><rect x="301.40" y="291.88" width="7.6" height="11.63" fill="rgb(255,40,0)"/><rect x="301.40" y="303.20" width="7.6" height="11.63" fill="rgb(249,0,0)"/><rect x="301.40" y="314.52" width="7.6" height="11.63" fill="rgb(204,0,0)"/><rect x="301.40" y="325.85" width="7.6" height="11.63" fill="rgb(249,0,0)"/><rect x="301.40" y="337.18" width="7.6" height="11.63" fill="rgb(255,85,0)"/><rect x="301.40" y="348.50" width="7.6" height="11.63" fill="rgb(255,221,0)"/><rect x="301.40" y="359.82" width="7.6" height="11.63" fill="rgb(255,255,17)"/><rect x="301.40" y="371.15" width="7.6" height="11.63" fill="rgb(255,255,153)"/><rect x="301.40" y="461.75" width="7.6" height="11.63" fill="rgb(255,255,221)"/><rect x="301.40" y="473.07" width="7.6" height="11.63" fill="rgb(255,221,0)"/><rect x="301.40" y="484.40" width="7.6" height="11.63" fill="rgb(255,176,0)"/><rect x="308.70" y="269.23" width="7.6" height="11.63" fill="rgb(255,221,0)"/><rect x="308.70" y="280.55" width="7.6" height="11.63" fill="rgb(255,130,0)"/><rect x="308.70" y="291.88" width="7.6" height="11.63" fill="rgb(255,40,0)"/><rect x="308.70" y="303.20" width="7.6" height="11.63" fill="rgb(255,40,0)"/><rect x="308.70" y="314.52" width="7.6" height="11.63" fill="rgb(249,0,0)"/><rect x="308.70" y="325.85" width="7.6" height="11.63" fill="rgb(249,0,0)"/><rect x="308.70" y="337.18" width="7.6" height="11.63" fill="rgb(255,85,0)"/><rect x="308.70" y="348.50" width="7.6" height="11.63" fill="rgb(255,130,0)"/><rect x="308.70" y="359.82" width="7.6" height="11.63" fill="rgb(255,176,0)"/><rect x="308.70" y="371.15" width="7.6" height="11.63" fill="rgb(255,255,85)"/><rect x="308.70" y="461.75" width="7.6" height="11.63" fill="rgb(255,255,85)"/><rect x="308.70" y="473.07" width="7.6" height="11.63" fill="rgb(255,176,0)"/><rect x="308.70" y="484.40" width="7.6" height="11.63" fill="rgb(255,85,0)"/><rect x="316.00" y="280.55" width="7.6" height="11.63" fill="rgb(255,255,85)"/><rect x="316.00" y="291.88" width="7.6" height="11.63" fill="rgb(255,85,0)"/><rect x="316.00" y="303.20" width="7.6" height="11.63" fill="rgb(249,0,0)"/><rect x="316.00" y="314.52" width="7.6" height="11.63" fill="rgb(249,0,0)"/><rect x="316.00" y="325.85" width="7.6" height="11.63" fill="rgb(255,40,0)"/><rect x="316.00" y="337.18" width="7.6" height="11.63" fill="rgb(255,85,0)"/><rect x="316.00" y="348.50" width="7.6" height="11.63" fill="rgb(255,130,0)"/><rect x="316.00" y="359.82" width="7.6" height="11.63" fill="rgb(255,176,0)"/><rect x="316.00" y="371.15" width="7.6" height="11.63" fill="rgb(255,255,85)"/><rect x="316.00" y="461.75" width="7.6" height="11.63" fill="rgb(255,255,17)"/><rect x="316.00" y="473.07" width="7.6" height="11.63" fill="rgb(255,130,0)"/><rect x="316.00" y="484.40" width="7.6" height="11.63" fill="rgb(255,40,0)"/><rect x="323.30" y="280.55" width="7.6" height="11.63" fill="rgb(255,255,153)"/><rect x="323.30" y="291.88" width="7.6" height="11.63" fill="rgb(255,130,0)"/><rect x="323.30" y="303.20" width="7.6" height="11.63" fill="rgb(249,0,0)"/><rect x="323.30" y="314.52" width="7.6" height="11.63" fill="rgb(204,0,0)"/><rect x="323.30" y="325.85" width="7.6" height="11.63" fill="rgb(255,40,0)"/><rect x="323.30" y="337.18" width="7.6" height="11.63" fill="rgb(255,85,0)"/><rect x="323.30" y="348.50" width="7.6" height="11.63" fill="rgb(255,85,0)"/><rect x="323.30" y="359.82" width="7.6" height="11.63" fill="rgb(255,130,0)"/><rect x="323.30" y="371.15" width="7.6" height="11.63" fill="rgb(255,221,0)"/><rect x="323.30" y="461.75" width="7.6" height="11.63" fill="rgb(255,255,17)"/><rect x="323.30" y="473.07" width="7.6" height="11.63" fill="rgb(249,0,0)"/><rect x="323.30" y="484.40" width="7.6" height="11.63" fill="rgb(204,0,0)"/><rect x="330.60" y="235.25" width="7.6" height="11.63" fill="rgb(255,255,221)"/><rect x="330.60" y="246.57" width="7.6" height="11.63" fill="rgb(255,255,153)"/><rect x="330.60" y="280.55" width="7.6" height="11.63" fill="rgb(255,255,153)"/><rect x="330.60" y="291.88" width="7.6" height="11.63" fill="rgb(255,176,0)"/><rect x="330.60" y="303.20" width="7.6" height="11.63" fill="rgb(255,40,0)"/><rect x="330.60" y="314.52" width="7.6" height="11.63" fill="rgb(249,0,0)"/><rect x="330.60" y="325.85" width="7.6" height="11.63" fill="rgb(249,0,0)"/><rect x="330.60" y="337.18" width="7.6" height="11.63" fill="rgb(255,40,0)"/><rect x="330.60" y="348.50" width="7.6" height="11.63" fill="rgb(255,40,0)"/><rect x="330.60" y="359.82" width="7.6" height="11.63" fill="rgb(255,85,0)"/><rect x="330.60" y="371.15" width="7.6" height="11.63" fill="rgb(255,130,0)"/><rect x="330.60" y="461.75" width="7.6" height="11.63" fill="rgb(255,255,85)"/><rect x="330.60" y="473.07" width="7.6" height="11.63" fill="rgb(159,0,0)"/><rect x="330.60" y="484.40" width="7.6" height="11.63" fill="rgb(159,0,0)"/><rect x="337.90" y="235.25" width="7.6" height="11.63" fill="rgb(255,255,221)"/><rect x="337.90" y="246.57" width="7.6" height="11.63" fill="rgb(255,255,17)"/><rect x="337.90" y="257.90" width="7.6" height="11.63" fill="rgb(255,255,85)"/><rect x="337.90" y="280.55" width="7.6" height="11.63" fill="rgb(255,255,153)"/><rect x="337.90" y="291.88" width="7.6" height="11.63" fill="rgb(255,221,0)"/><rect x="337.90" y="303.20" width="7.6" height="11.63" fill="rgb(255,85,0)"/><rect x="337.90" y="314.52" width="7.6" height="11.63" fill="rgb(255,85,0)"/><rect x="337.90" y="325.85" width="7.6" height="11.63" fill="rgb(255,130,0)"/><rect x="337.90" y="337.18" width="7.6" height="11.63" fill="rgb(255,130,0)"/><rect x="337.90" y="348.50" width="7.6" height="11.63" fill="rgb(255,130,0)"/><rect x="337.90" y="359.82" width="7.6" height="11.63" fill="rgb(204,0,0)"/><rect x="337.90" y="371.15" width="7.6" height="11.63" fill="rgb(204,0,0)"/><rect x="337.90" y="382.48" width="7.6" height="11.63" fill="rgb(255,255,85)"/><rect x="337.90" y="416.45" width="7.6" height="11.63" fill="rgb(255,255,221)"/><rect x="337.90" y="427.77" width="7.6" height="11.63" fill="rgb(255,255,221)"/><rect x="337.90" y="439.10" width="7.6" height="11.63" fill="rgb(255,176,0)"/><rect x="337.90" y="450.43" width="7.6" height="11.63" fill="rgb(255,255,17)"/><rect x="337.90" y="461.75" width="7.6" height="11.63" fill="rgb(255,176,0)"/><rect x="337.90" y="473.07" width="7.6" height="11.63" fill="rgb(255,176,0)"/><rect x="337.90" y="484.40" width="7.6" height="11.63" fill="rgb(255,130,0)"/><rect x="345.20" y="246.57" width="7.6" height="11.63" fill="rgb(255,255,17)"/><rect x="345.20" y="257.90" width="7.6" height="11.63" fill="rgb(255,176,0)"/><rect x="345.20" y="269.23" width="7.6" height="11.63" fill="rgb(255,255,153)"/><rect x="345.20" y="280.55" width="7.6" height="11.63" fill="rgb(255,255,153)"/><rect x="345.20" y="291.88" width="7.6" height="11.63" fill="rgb(255,255,85)"/><rect x="345.20" y="303.20" width="7.6" height="11.63" fill="rgb(255,176,0)"/><rect x="345.20" y="314.52" width="7.6" height="11.63" fill="rgb(255,221,0)"/><rect x="345.20" y="325.85" width="7.6" height="11.63" fill="rgb(255,221,0)"/><rect x="345.20" y="337.18" width="7.6" height="11.63" fill="rgb(255,221,0)"/><rect x="345.20" y="348.50" width="7.6" height="11.63" fill="rgb(255,176,0)"/><rect x="345.20" y="359.82" width="7.6" height="11.63" fill="rgb(204,0,0)"/><rect x="345.20" y="371.15" width="7.6" height="11.63" fill="rgb(159,0,0)"/><rect x="345.20" y="382.48" width="7.6" height="11.63" fill="rgb(204,0,0)"/><rect x="345.20" y="393.80" width="7.6" height="11.63" fill="rgb(204,0,0)"/><rect x="345.20" y="405.12" width="7.6" height="11.63" fill="rgb(204,0,0)"/><rect x="345.20" y="416.45" width="7.6" height="11.63" fill="rgb(204,0,0)"/><rect x="345.20" y="427.77" width="7.6" height="11.63" fill="rgb(255,130,0)"/><rect x="345.20" y="439.10" width="7.6" height="11.63" fill="rgb(255,85,0)"/><rect x="345.20" y="450.43" width="7.6" height="11.63" fill="rgb(255,85,0)"/><rect x="345.20" y="461.75" width="7.6" height="11.63" fill="rgb(255,85,0)"/><rect x="345.20" y="473.07" width="7.6" height="11.63" fill="rgb(255,255,17)"/><rect x="345.20" y="484.40" width="7.6" height="11.63" fill="rgb(255,221,0)"/><rect x="352.50" y="246.57" width="7.6" height="11.63" fill="rgb(255,176,0)"/><rect x="352.50" y="257.90" width="7.6" height="11.63" fill="rgb(255,255,17)"/><rect x="352.50" y="269.23" width="7.6" height="11.63" fill="rgb(255,255,221)"/><rect x="352.50" y="280.55" width="7.6" height="11.63" fill="rgb(255,255,153)"/><rect x="352.50" y="291.88" width="7.6" height="11.63" fill="rgb(255,255,153)"/><rect x="352.50" y="303.20" width="7.6" height="11.63" fill="rgb(255,255,153)"/><rect x="352.50" y="314.52" width="7.6" height="11.63" fill="rgb(255,255,17)"/><rect x="352.50" y="325.85" width="7.6" height="11.63" fill="rgb(255,221,0)"/><rect x="352.50" y="337.18" width="7.6" height="11.63" fill="rgb(255,255,17)"/><rect x="352.50" y="348.50" width="7.6" height="11.63" fill="rgb(255,176,0)"/><rect x="352.50" y="359.82" width="7.6" height="11.63" fill="rgb(159,0,0)"/><rect x="352.50" y="371.15" width="7.6" height="11.63" fill="rgb(159,0,0)"/><rect x="352.50" y="382.48" width="7.6" height="11.63" fill="rgb(159,0,0)"/><rect x="352.50" y="393.80" width="7.6" height="11.63" fill="rgb(159,0,0)"/><rect x="352.50" y="405.12" width="7.6" height="11.63" fill="rgb(113,0,0)"/><rect x="352.50" y="416.45" width="7.6" height="11.63" fill="rgb(159,0,0)"/><rect x="352.50" y="427.77" width="7.6" height="11.63" fill="rgb(204,0,0)"/><rect x="352.50" y="439.10" width="7.6" height="11.63" fill="rgb(159,0,0)"/><rect x="352.50" y="450.43" width="7.6" height="11.63" fill="rgb(159,0,0)"/><rect x="352.50" y="461.75" width="7.6" height="11.63" fill="rgb(249,0,0)"/><rect x="352.50" y="473.07" width="7.6" height="11.63" fill="rgb(255,255,221)"/><rect x="352.50" y="484.40" width="7.6" height="11.63" fill="rgb(255,255,153)"/><rect x="359.80" y="257.90" width="7.6" height="11.63" fill="rgb(255,255,221)"/><rect x="359.80" y="269.23" width="7.6" height="11.63" fill="rgb(255,255,153)"/><rect x="359.80" y="280.55" width="7.6" height="11.63" fill="rgb(255,255,17)"/><rect x="359.80" y="291.88" width="7.6" height="11.63" fill="rgb(255,255,221)"/><rect x="359.80" y="314.52" width="7.6" height="11.63" fill="rgb(255,255,85)"/><rect x="359.80" y="325.85" width="7.6" height="11.63" fill="rgb(255,255,17)"/><rect x="359.80" y="337.18" width="7.6" height="11.63" fill="rgb(255,255,17)"/><rect x="359.80" y="348.50" width="7.6" height="11.63" fill="rgb(255,176,0)"/><rect x="359.80" y="359.82" width="7.6" height="11.63" fill="rgb(204,0,0)"/><rect x="359.80" y="371.15" width="7.6" height="11.63" fill="rgb(204,0,0)"/><rect x="359.80" y="382.48" width="7.6" height="11.63" fill="rgb(204,0,0)"/><rect x="359.80" y="393.80" width="7.6" height="11.63" fill="rgb(159,0,0)"/><rect x="359.80" y="405.12" width="7.6" height="11.63" fill="rgb(159,0,0)"/><rect x="359.80" y="416.45" width="7.6" height="11.63" fill="rgb(159,0,0)"/><rect x="359.80" y="427.77" width="7.6" height="11.63" fill="rgb(159,0,0)"/><rect x="359.80" y="439.10" width="7.6" height="11.63" fill="rgb(159,0,0)"/><rect x="359.80" y="450.43" width="7.6" height="11.63" fill="rgb(113,0,0)"/><rect x="359.80" y="461.75" width="7.6" height="11.63" fill="rgb(255,40,0)"/><rect x="359.80" y="484.40" width="7.6" height="11.63" fill="rgb(255,255,85)"/><rect x="367.10" y="201.28" width="7.6" height="11.63" fill="rgb(255,255,221)"/><rect x="367.10" y="212.60" width="7.6" height="11.63" fill="rgb(255,255,153)"/><rect x="367.10" y="257.90" width="7.6" height="11.63" fill="rgb(255,255,221)"/><rect x="367.10" y="269.23" width="7.6" height="11.63" fill="rgb(255,176,0)"/><rect x="367.10" y="280.55" width="7.6" height="11.63" fill="rgb(255,255,17)"/><rect x="367.10" y="325.85" width="7.6" height="11.63" fill="rgb(255,255,153)"/><rect x="367.10" y="337.18" width="7.6" height="11.63" fill="rgb(255,255,17)"/><rect x="367.10" y="348.50" width="7.6" height="11.63" fill="rgb(255,221,0)"/><rect x="367.10" y="359.82" width="7.6" height="11.63" fill="rgb(249,0,0)"/><rect x="367.10" y="371.15" width="7.6" height="11.63" fill="rgb(249,0,0)"/><rect x="367.10" y="382.48" width="7.6" height="11.63" fill="rgb(204,0,0)"/><rect x="367.10" y="393.80" width="7.6" height="11.63" fill="rgb(204,0,0)"/><rect x="367.10" y="405.12" width="7.6" height="11.63" fill="rgb(204,0,0)"/><rect x="367.10" y="416.45" width="7.6" height="11.63" fill="rgb(204,0,0)"/><rect x="367.10" y="427.77" width="7.6" height="11.63" fill="rgb(204,0,0)"/><rect x="367.10" y="439.10" width="7.6" height="11.63" fill="rgb(204,0,0)"/><rect x="367.10" y="450.43" width="7.6" height="11.63" fill="rgb(159,0,0)"/><rect x="367.10" y="461.75" width="7.6" height="11.63" fill="rgb(249,0,0)"/><rect x="367.10" y="473.07" width="7.6" height="11.63" fill="rgb(255,130,0)"/><rect x="367.10" y="484.40" width="7.6" height="11.63" fill="rgb(255,221,0)"/><rect x="374.40" y="201.28" width="7.6" height="11.63" fill="rgb(255,255,153)"/><rect x="374.40" y="212.60" width="7.6" height="11.63" fill="rgb(255,255,153)"/><rect x="374.40" y="337.18" width="7.6" height="11.63" fill="rgb(255,255,153)"/><rect x="374.40" y="348.50" width="7.6" height="11.63" fill="rgb(255,255,17)"/><rect x="374.40" y="359.82" width="7.6" height="11.63" fill="rgb(249,0,0)"/><rect x="374.40" y="371.15" width="7.6" height="11.63" fill="rgb(249,0,0)"/><rect x="374.40" y="382.48" width="7.6" height="11.63" fill="rgb(204,0,0)"/><rect x="374.40" y="393.80" width="7.6" height="11.63" fill="rgb(204,0,0)"/><rect x="374.40" y="405.12" width="7.6" height="11.63" fill="rgb(249,0,0)"/><rect x="374.40" y="416.45" width="7.6" height="11.63" fill="rgb(249,0,0)"/><rect x="374.40" y="427.77" width="7.6" height="11.63" fill="rgb(204,0,0)"/><rect x="374.40" y="439.10" width="7.6" height="11.63" fill="rgb(204,0,0)"/><rect x="374.40" y="450.43" width="7.6" height="11.63" fill="rgb(159,0,0)"/><rect x="374.40" y="461.75" width="7.6" height="11.63" fill="rgb(204,0,0)"/><rect x="374.40" y="473.07" width="7.6" height="11.63" fill="rgb(249,0,0)"/><rect x="374.40" y="484.40" width="7.6" height="11.63" fill="rgb(255,85,0)"/><rect x="381.70" y="189.95" width="7.6" height="11.63" fill="rgb(255,255,153)"/><rect x="381.70" y="201.28" width="7.6" height="11.63" fill="rgb(255,255,85)"/><rect x="381.70" y="212.60" width="7.6" height="11.63" fill="rgb(255,255,85)"/><rect x="381.70" y="223.93" width="7.6" height="11.63" fill="rgb(255,255,153)"/><rect x="381.70" y="348.50" width="7.6" height="11.63" fill="rgb(255,255,221)"/><rect x="381.70" y="359.82" width="7.6" height="11.63" fill="rgb(255,176,0)"/><rect x="381.70" y="371.15" width="7.6" height="11.63" fill="rgb(255,130,0)"/><rect x="381.70" y="382.48" width="7.6" height="11.63" fill="rgb(255,130,0)"/><rect x="381.70" y="393.80" width="7.6" height="11.63" fill="rgb(255,85,0)"/><rect x="381.70" y="405.12" width="7.6" height="11.63" fill="rgb(255,130,0)"/><rect x="381.70" y="416.45" width="7.6" height="11.63" fill="rgb(255,130,0)"/><rect x="381.70" y="427.77" width="7.6" height="11.63" fill="rgb(249,0,0)"/><rect x="381.70" y="439.10" width="7.6" height="11.63" fill="rgb(249,0,0)"/><rect x="381.70" y="450.43" width="7.6" height="11.63" fill="rgb(204,0,0)"/><rect x="381.70" y="461.75" width="7.6" height="11.63" fill="rgb(249,0,0)"/><rect x="381.70" y="473.07" width="7.6" height="11.63" fill="rgb(255,40,0)"/><rect x="381.70" y="484.40" width="7.6" height="11.63" fill="rgb(255,40,0)"/><rect x="389.00" y="178.62" width="7.6" height="11.63" fill="rgb(255,255,221)"/><rect x="389.00" y="189.95" width="7.6" height="11.63" fill="rgb(255,255,17)"/><rect x="389.00" y="201.28" width="7.6" height="11.63" fill="rgb(255,255,85)"/><rect x="389.00" y="212.60" width="7.6" height="11.63" fill="rgb(255,255,85)"/><rect x="389.00" y="223.93" width="7.6" height="11.63" fill="rgb(255,255,221)"/><rect x="389.00" y="359.82" width="7.6" height="11.63" fill="rgb(255,255,17)"/><rect x="389.00" y="371.15" width="7.6" height="11.63" fill="rgb(255,255,17)"/><rect x="389.00" y="382.48" width="7.6" height="11.63" fill="rgb(255,255,17)"/><rect x="389.00" y="393.80" width="7.6" height="11.63" fill="rgb(255,255,17)"/><rect x="389.00" y="405.12" width="7.6" height="11.63" fill="rgb(255,221,0)"/><rect x="389.00" y="416.45" width="7.6" height="11.63" fill="rgb(255,176,0)"/><rect x="389.00" y="427.77" width="7.6" height="11.63" fill="rgb(255,85,0)"/><rect x="389.00" y="439.10" width="7.6" height="11.63" fill="rgb(255,40,0)"/><rect x="389.00" y="450.43" width="7.6" height="11.63" fill="rgb(249,0,0)"/><rect x="389.00" y="461.75" width="7.6" height="11.63" fill="rgb(255,40,0)"/><rect x="389.00" y="473.07" width="7.6" height="11.63" fill="rgb(255,85,0)"/><rect x="389.00" y="484.40" width="7.6" height="11.63" fill="rgb(255,40,0)"/><rect x="396.30" y="178.62" width="7.6" height="11.63" fill="rgb(255,255,85)"/><rect x="396.30" y="212.60" width="7.6" height="11.63" fill="rgb(255,255,153)"/><rect x="396.30" y="223.93" width="7.6" height="11.63" fill="rgb(255,255,17)"/><rect x="396.30" y="359.82" width="7.6" height="11.63" fill="rgb(255,255,85)"/><rect x="396.30" y="371.15" width="7.6" height="11.63" fill="rgb(255,255,85)"/><rect x="396.30" y="382.48" width="7.6" height="11.63" fill="rgb(255,255,17)"/><rect x="396.30" y="393.80" width="7.6" height="11.63" fill="rgb(255,255,17)"/><rect x="396.30" y="405.12" width="7.6" height="11.63" fill="rgb(255,221,0)"/><rect x="396.30" y="416.45" width="7.6" height="11.63" fill="rgb(255,176,0)"/><rect x="396.30" y="427.77" width="7.6" height="11.63" fill="rgb(255,130,0)"/><rect x="396.30" y="439.10" width="7.6" height="11.63" fill="rgb(255,85,0)"/><rect x="396.30" y="450.43" width="7.6" height="11.63" fill="rgb(255,40,0)"/><rect x="396.30" y="461.75" width="7.6" height="11.63" fill="rgb(249,0,0)"/><rect x="396.30" y="473.07" width="7.6" height="11.63" fill="rgb(255,40,0)"/><rect x="396.30" y="484.40" width="7.6" height="11.63" fill="rgb(249,0,0)"/><rect x="403.60" y="122.00" width="7.6" height="11.63" fill="rgb(255,255,153)"/><rect x="403.60" y="133.33" width="7.6" height="11.63" fill="rgb(255,255,85)"/><rect x="403.60" y="144.65" width="7.6" height="11.63" fill="rgb(255,255,221)"/><rect x="403.60" y="178.62" width="7.6" height="11.63" fill="rgb(255,255,153)"/><rect x="403.60" y="223.93" width="7.6" height="11.63" fill="rgb(255,221,0)"/><rect x="403.60" y="371.15" width="7.6" height="11.63" fill="rgb(255,255,153)"/><rect x="403.60" y="382.48" width="7.6" height="11.63" fill="rgb(255,255,153)"/><rect x="403.60" y="393.80" width="7.6" height="11.63" fill="rgb(255,255,153)"/><rect x="403.60" y="405.12" width="7.6" height="11.63" fill="rgb(255,255,17)"/><rect x="403.60" y="416.45" width="7.6" height="11.63" fill="rgb(255,221,0)"/><rect x="403.60" y="427.77" width="7.6" height="11.63" fill="rgb(255,130,0)"/><rect x="403.60" y="439.10" width="7.6" height="11.63" fill="rgb(255,85,0)"/><rect x="403.60" y="450.43" width="7.6" height="11.63" fill="rgb(255,40,0)"/><rect x="403.60" y="461.75" width="7.6" height="11.63" fill="rgb(255,40,0)"/><rect x="403.60" y="473.07" width="7.6" height="11.63" fill="rgb(249,0,0)"/><rect x="403.60" y="484.40" width="7.6" height="11.63" fill="rgb(249,0,0)"/><rect x="410.90" y="122.00" width="7.6" height="11.63" fill="rgb(255,255,221)"/><rect x="410.90" y="167.30" width="7.6" height="11.63" fill="rgb(255,255,153)"/><rect x="410.90" y="178.62" width="7.6" height="11.63" fill="rgb(255,255,153)"/><rect x="410.90" y="223.93" width="7.6" height="11.63" fill="rgb(255,221,0)"/><rect x="410.90" y="359.82" width="7.6" height="11.63" fill="rgb(255,255,153)"/><rect x="410.90" y="371.15" width="7.6" height="11.63" fill="rgb(255,255,221)"/><rect x="410.90" y="382.48" width="7.6" height="11.63" fill="rgb(255,255,221)"/><rect x="410.90" y="393.80" width="7.6" height="11.63" fill="rgb(255,255,221)"/><rect x="410.90" y="405.12" width="7.6" height="11.63" fill="rgb(255,255,85)"/><rect x="410.90" y="416.45" width="7.6" height="11.63" fill="rgb(255,255,17)"/><rect x="410.90" y="427.77" width="7.6" height="11.63" fill="rgb(255,176,0)"/><rect x="410.90" y="439.10" width="7.6" height="11.63" fill="rgb(255,130,0)"/><rect x="410.90" y="450.43" width="7.6" height="11.63" fill="rgb(204,0,0)"/><rect x="410.90" y="461.75" width="7.6" height="11.63" fill="rgb(204,0,0)"/><rect x="410.90" y="473.07" width="7.6" height="11.63" fill="rgb(255,40,0)"/><rect x="410.90" y="484.40" width="7.6" height="11.63" fill="rgb(249,0,0)"/><rect x="418.20" y="167.30" width="7.6" height="11.63" fill="rgb(255,255,221)"/><rect x="418.20" y="178.62" width="7.6" height="11.63" fill="rgb(255,255,153)"/><rect x="418.20" y="212.60" width="7.6" height="11.63" fill="rgb(255,255,221)"/><rect x="418.20" y="223.93" width="7.6" height="11.63" fill="rgb(255,221,0)"/><rect x="418.20" y="405.12" width="7.6" height="11.63" fill="rgb(255,255,153)"/><rect x="418.20" y="416.45" width="7.6" height="11.63" fill="rgb(255,255,85)"/><rect x="418.20" y="427.77" width="7.6" height="11.63" fill="rgb(255,221,0)"/><rect x="418.20" y="439.10" width="7.6" height="11.63" fill="rgb(255,176,0)"/><rect x="418.20" y="450.43" width="7.6" height="11.63" fill="rgb(204,0,0)"/><rect x="418.20" y="461.75" width="7.6" height="11.63" fill="rgb(249,0,0)"/><rect x="418.20" y="473.07" width="7.6" height="11.63" fill="rgb(249,0,0)"/><rect x="418.20" y="484.40" width="7.6" height="11.63" fill="rgb(249,0,0)"/><rect x="425.50" y="178.62" width="7.6" height="11.63" fill="rgb(255,255,221)"/><rect x="425.50" y="189.95" width="7.6" height="11.63" fill="rgb(255,255,221)"/><rect x="425.50" y="201.28" width="7.6" height="11.63" fill="rgb(255,255,221)"/><rect x="425.50" y="212.60" width="7.6" height="11.63" fill="rgb(255,255,153)"/><rect x="425.50" y="223.93" width="7.6" height="11.63" fill="rgb(255,255,153)"/><rect x="425.50" y="405.12" width="7.6" height="11.63" fill="rgb(255,255,221)"/><rect x="425.50" y="416.45" width="7.6" height="11.63" fill="rgb(255,255,153)"/><rect x="425.50" y="427.77" width="7.6" height="11.63" fill="rgb(255,255,153)"/><rect x="425.50" y="439.10" width="7.6" height="11.63" fill="rgb(255,255,153)"/><rect x="425.50" y="450.43" width="7.6" height="11.63" fill="rgb(255,255,17)"/><rect x="425.50" y="461.75" width="7.6" height="11.63" fill="rgb(255,130,0)"/><rect x="425.50" y="473.07" width="7.6" height="11.63" fill="rgb(249,0,0)"/><rect x="425.50" y="484.40" width="7.6" height="11.63" fill="rgb(204,0,0)"/><rect x="432.80" y="189.95" width="7.6" height="11.63" fill="rgb(255,255,221)"/><rect x="432.80" y="439.10" width="7.6" height="11.63" fill="rgb(255,255,221)"/><rect x="432.80" y="450.43" width="7.6" height="11.63" fill="rgb(255,255,153)"/><rect x="432.80" y="461.75" width="7.6" height="11.63" fill="rgb(255,255,17)"/><rect x="432.80" y="473.07" width="7.6" height="11.63" fill="rgb(255,85,0)"/><rect x="432.80" y="484.40" width="7.6" height="11.63" fill="rgb(249,0,0)"/><rect x="440.10" y="416.45" width="7.6" height="11.63" fill="rgb(255,255,221)"/><rect x="440.10" y="427.77" width="7.6" height="11.63" fill="rgb(255,255,221)"/><rect x="440.10" y="461.75" width="7.6" height="11.63" fill="rgb(255,255,17)"/><rect x="440.10" y="473.07" width="7.6" height="11.63" fill="rgb(255,85,0)"/><rect x="440.10" y="484.40" width="7.6" height="11.63" fill="rgb(255,40,0)"/><rect x="447.40" y="427.77" width="7.6" height="11.63" fill="rgb(255,255,221)"/><rect x="447.40" y="461.75" width="7.6" height="11.63" fill="rgb(255,255,17)"/><rect x="447.40" y="473.07" width="7.6" height="11.63" fill="rgb(249,0,0)"/><rect x="447.40" y="484.40" width="7.6" height="11.63" fill="rgb(249,0,0)"/><rect x="454.70" y="99.35" width="7.6" height="11.63" fill="rgb(255,255,221)"/><rect x="454.70" y="189.95" width="7.6" height="11.63" fill="rgb(255,255,221)"/><rect x="454.70" y="461.75" width="7.6" height="11.63" fill="rgb(255,130,0)"/><rect x="454.70" y="473.07" width="7.6" height="11.63" fill="rgb(204,0,0)"/><rect x="454.70" y="484.40" width="7.6" height="11.63" fill="rgb(249,0,0)"/><rect x="462.00" y="99.35" width="7.6" height="11.63" fill="rgb(255,255,221)"/><rect x="462.00" y="223.93" width="7.6" height="11.63" fill="rgb(255,255,221)"/><rect x="462.00" y="235.25" width="7.6" height="11.63" fill="rgb(255,255,221)"/><rect x="462.00" y="473.07" width="7.6" height="11.63" fill="rgb(159,0,0)"/><rect x="462.00" y="484.40" width="7.6" height="11.63" fill="rgb(204,0,0)"/><rect x="469.30" y="201.28" width="7.6" height="11.63" fill="rgb(255,255,221)"/><rect x="469.30" y="223.93" width="7.6" height="11.63" fill="rgb(255,255,221)"/><rect x="469.30" y="235.25" width="7.6" height="11.63" fill="rgb(255,255,85)"/><rect x="469.30" y="416.45" width="7.6" height="11.63" fill="rgb(255,255,221)"/><rect x="469.30" y="427.77" width="7.6" height="11.63" fill="rgb(255,255,221)"/><rect x="469.30" y="473.07" width="7.6" height="11.63" fill="rgb(159,0,0)"/><rect x="469.30" y="484.40" width="7.6" height="11.63" fill="rgb(159,0,0)"/><rect x="476.60" y="201.28" width="7.6" height="11.63" fill="rgb(255,255,153)"/><rect x="476.60" y="235.25" width="7.6" height="11.63" fill="rgb(255,255,85)"/><rect x="476.60" y="246.57" width="7.6" height="11.63" fill="rgb(255,255,153)"/><rect x="476.60" y="416.45" width="7.6" height="11.63" fill="rgb(255,255,85)"/><rect x="476.60" y="427.77" width="7.6" height="11.63" fill="rgb(255,255,221)"/><rect x="476.60" y="473.07" width="7.6" height="11.63" fill="rgb(204,0,0)"/><rect x="476.60" y="484.40" width="7.6" height="11.63" fill="rgb(159,0,0)"/><rect x="483.90" y="201.28" width="7.6" height="11.63" fill="rgb(255,255,153)"/><rect x="483.90" y="246.57" width="7.6" height="11.63" fill="rgb(255,255,153)"/><rect x="483.90" y="405.12" width="7.6" height="11.63" fill="rgb(255,255,17)"/><rect x="483.90" y="416.45" width="7.6" height="11.63" fill="rgb(255,130,0)"/><rect x="483.90" y="427.77" width="7.6" height="11.63" fill="rgb(255,221,0)"/><rect x="483.90" y="473.07" width="7.6" height="11.63" fill="rgb(255,255,85)"/><rect x="491.20" y="201.28" width="7.6" height="11.63" fill="rgb(255,255,221)"/><rect x="491.20" y="212.60" width="7.6" height="11.63" fill="rgb(255,255,221)"/><rect x="491.20" y="246.57" width="7.6" height="11.63" fill="rgb(255,255,153)"/><rect x="491.20" y="257.90" width="7.6" height="11.63" fill="rgb(255,255,153)"/><rect x="491.20" y="405.12" width="7.6" height="11.63" fill="rgb(255,255,85)"/><rect x="491.20" y="416.45" width="7.6" height="11.63" fill="rgb(255,85,0)"/><rect x="491.20" y="427.77" width="7.6" height="11.63" fill="rgb(249,0,0)"/><rect x="491.20" y="439.10" width="7.6" height="11.63" fill="rgb(255,255,17)"/><rect x="498.50" y="201.28" width="7.6" height="11.63" fill="rgb(255,255,221)"/><rect x="498.50" y="212.60" width="7.6" height="11.63" fill="rgb(255,255,221)"/><rect x="498.50" y="257.90" width="7.6" height="11.63" fill="rgb(255,255,17)"/><rect x="498.50" y="416.45" width="7.6" height="11.63" fill="rgb(255,85,0)"/><rect x="498.50" y="427.77" width="7.6" height="11.63" fill="rgb(249,0,0)"/><rect x="498.50" y="439.10" width="7.6" height="11.63" fill="rgb(255,130,0)"/><rect x="505.80" y="201.28" width="7.6" height="11.63" fill="rgb(255,255,221)"/><rect x="505.80" y="212.60" width="7.6" height="11.63" fill="rgb(255,255,153)"/><rect x="505.80" y="257.90" width="7.6" height="11.63" fill="rgb(255,255,85)"/><rect x="505.80" y="269.23" width="7.6" height="11.63" fill="rgb(255,255,153)"/><rect x="505.80" y="280.55" width="7.6" height="11.63" fill="rgb(255,255,221)"/><rect x="505.80" y="416.45" width="7.6" height="11.63" fill="rgb(255,255,85)"/><rect x="505.80" y="427.77" width="7.6" height="11.63" fill="rgb(255,176,0)"/><rect x="505.80" y="439.10" width="7.6" height="11.63" fill="rgb(255,176,0)"/><rect x="505.80" y="450.43" width="7.6" height="11.63" fill="rgb(255,255,221)"/><rect x="513.10" y="212.60" width="7.6" height="11.63" fill="rgb(255,255,85)"/><rect x="513.10" y="223.93" width="7.6" height="11.63" fill="rgb(255,255,221)"/><rect x="513.10" y="269.23" width="7.6" height="11.63" fill="rgb(255,255,153)"/><rect x="513.10" y="280.55" width="7.6" height="11.63" fill="rgb(255,255,153)"/><rect x="513.10" y="291.88" width="7.6" height="11.63" fill="rgb(255,255,153)"/><rect x="513.10" y="393.80" width="7.6" height="11.63" fill="rgb(255,255,221)"/><rect x="513.10" y="405.12" width="7.6" height="11.63" fill="rgb(255,255,221)"/><rect x="513.10" y="416.45" width="7.6" height="11.63" fill="rgb(255,255,17)"/><rect x="513.10" y="427.77" width="7.6" height="11.63" fill="rgb(255,221,0)"/><rect x="513.10" y="439.10" width="7.6" height="11.63" fill="rgb(255,221,0)"/><rect x="513.10" y="450.43" width="7.6" height="11.63" fill="rgb(255,255,221)"/><rect x="520.40" y="99.35" width="7.6" height="11.63" fill="rgb(255,255,153)"/><rect x="520.40" y="212.60" width="7.6" height="11.63" fill="rgb(255,255,17)"/><rect x="520.40" y="223.93" width="7.6" height="11.63" fill="rgb(255,255,17)"/><rect x="520.40" y="280.55" width="7.6" height="11.63" fill="rgb(255,255,221)"/><rect x="520.40" y="291.88" width="7.6" height="11.63" fill="rgb(255,255,221)"/><rect x="520.40" y="393.80" width="7.6" height="11.63" fill="rgb(255,255,221)"/><rect x="520.40" y="405.12" width="7.6" height="11.63" fill="rgb(255,255,221)"/><rect x="520.40" y="416.45" width="7.6" height="11.63" fill="rgb(255,255,153)"/><rect x="520.40" y="427.77" width="7.6" height="11.63" fill="rgb(255,255,17)"/><rect x="520.40" y="439.10" width="7.6" height="11.63" fill="rgb(255,255,85)"/><rect x="527.70" y="99.35" width="7.6" height="11.63" fill="rgb(255,255,17)"/><rect x="527.70" y="201.28" width="7.6" height="11.63" fill="rgb(255,255,221)"/><rect x="527.70" y="212.60" width="7.6" height="11.63" fill="rgb(255,255,17)"/><rect x="527.70" y="223.93" width="7.6" height="11.63" fill="rgb(255,130,0)"/><rect x="527.70" y="235.25" width="7.6" height="11.63" fill="rgb(255,255,221)"/><rect x="527.70" y="393.80" width="7.6" height="11.63" fill="rgb(255,255,221)"/><rect x="527.70" y="416.45" width="7.6" height="11.63" fill="rgb(255,255,221)"/><rect x="527.70" y="427.77" width="7.6" height="11.63" fill="rgb(255,255,17)"/><rect x="527.70" y="439.10" width="7.6" height="11.63" fill="rgb(255,255,153)"/><rect x="527.70" y="450.43" width="7.6" height="11.63" fill="rgb(255,255,221)"/><rect x="535.00" y="99.35" width="7.6" height="11.63" fill="rgb(255,255,153)"/><rect x="535.00" y="110.68" width="7.6" height="11.63" fill="rgb(255,255,85)"/><rect x="535.00" y="178.62" width="7.6" height="11.63" fill="rgb(255,255,221)"/><rect x="535.00" y="189.95" width="7.6" height="11.63" fill="rgb(255,255,221)"/><rect x="535.00" y="212.60" width="7.6" height="11.63" fill="rgb(255,255,85)"/><rect x="535.00" y="223.93" width="7.6" height="11.63" fill="rgb(255,130,0)"/><rect x="535.00" y="235.25" width="7.6" height="11.63" fill="rgb(255,221,0)"/><rect x="535.00" y="393.80" width="7.6" height="11.63" fill="rgb(255,255,221)"/><rect x="535.00" y="416.45" width="7.6" height="11.63" fill="rgb(255,255,221)"/><rect x="535.00" y="427.77" width="7.6" height="11.63" fill="rgb(255,255,17)"/><rect x="535.00" y="439.10" width="7.6" height="11.63" fill="rgb(255,255,153)"/><rect x="542.30" y="110.68" width="7.6" height="11.63" fill="rgb(255,255,153)"/><rect x="542.30" y="178.62" width="7.6" height="11.63" fill="rgb(255,255,153)"/><rect x="542.30" y="189.95" width="7.6" height="11.63" fill="rgb(255,255,85)"/><rect x="542.30" y="223.93" width="7.6" height="11.63" fill="rgb(255,255,85)"/><rect x="542.30" y="235.25" width="7.6" height="11.63" fill="rgb(255,221,0)"/><rect x="542.30" y="427.77" width="7.6" height="11.63" fill="rgb(255,255,221)"/><rect x="542.30" y="439.10" width="7.6" height="11.63" fill="rgb(255,255,221)"/><rect x="549.60" y="189.95" width="7.6" height="11.63" fill="rgb(255,255,153)"/><rect x="549.60" y="223.93" width="7.6" height="11.63" fill="rgb(255,255,221)"/><rect x="549.60" y="235.25" width="7.6" height="11.63" fill="rgb(255,255,153)"/><rect x="549.60" y="246.57" width="7.6" height="11.63" fill="rgb(255,255,221)"/><rect x="556.90" y="189.95" width="7.6" height="11.63" fill="rgb(255,255,153)"/><rect x="556.90" y="235.25" width="7.6" height="11.63" fill="rgb(255,255,153)"/><rect x="556.90" y="246.57" width="7.6" height="11.63" fill="rgb(255,255,221)"/><rect x="564.20" y="235.25" width="7.6" height="11.63" fill="rgb(255,255,221)"/><rect x="564.20" y="382.48" width="7.6" height="11.63" fill="rgb(255,255,221)"/><rect x="564.20" y="427.77" width="7.6" height="11.63" fill="rgb(255,255,221)"/><rect x="564.20" y="473.07" width="7.6" height="11.63" fill="rgb(255,255,221)"/><rect x="571.50" y="246.57" width="7.6" height="11.63" fill="rgb(255,255,221)"/><rect x="571.50" y="382.48" width="7.6" height="11.63" fill="rgb(255,255,221)"/><rect x="571.50" y="427.77" width="7.6" height="11.63" fill="rgb(255,255,153)"/><rect x="571.50" y="439.10" width="7.6" height="11.63" fill="rgb(255,255,153)"/><rect x="578.80" y="371.15" width="7.6" height="11.63" fill="rgb(255,255,221)"/><rect x="578.80" y="382.48" width="7.6" height="11.63" fill="rgb(255,255,221)"/><rect x="578.80" y="427.77" width="7.6" height="11.63" fill="rgb(255,255,153)"/><rect x="578.80" y="439.10" width="7.6" height="11.63" fill="rgb(255,255,153)"/><rect x="586.10" y="371.15" width="7.6" height="11.63" fill="rgb(255,255,221)"/><rect x="586.10" y="382.48" width="7.6" height="11.63" fill="rgb(255,255,221)"/><rect x="586.10" y="416.45" width="7.6" height="11.63" fill="rgb(255,255,221)"/><rect x="586.10" y="427.77" width="7.6" height="11.63" fill="rgb(255,255,153)"/><rect x="586.10" y="439.10" width="7.6" height="11.63" fill="rgb(255,221,0)"/><rect x="593.40" y="416.45" width="7.6" height="11.63" fill="rgb(255,255,153)"/><rect x="593.40" y="427.77" width="7.6" height="11.63" fill="rgb(255,255,17)"/><rect x="593.40" y="439.10" width="7.6" height="11.63" fill="rgb(255,130,0)"/><rect x="593.40" y="450.43" width="7.6" height="11.63" fill="rgb(255,255,17)"/><rect x="600.70" y="439.10" width="7.6" height="11.63" fill="rgb(255,130,0)"/><rect x="600.70" y="450.43" width="7.6" height="11.63" fill="rgb(255,176,0)"/></g><path d="M116.5,209.5 L192.0,191.3 L194.0,190.5 L223.0,208.2 L240.0,228.0 L257.0,247.8 L266.0,258.0 L276.7,281.7 L290.8,298.6 L300.0,299.0 L310.0,292.0 L312.0,284.0 L325.9,291.5 L342.0,299.0 L359.6,309.6 L371.0,318.0 L378.6,334.4 L384.1,346.5 L388.5,358.6 L388.5,380.0 L387.5,394.0 L396.0,405.0 L410.0,422.0 L426.4,441.4 L436.0,452.0 L445.0,459.0 L452.0,468.0 L465.0,478.0 L470.0,492.0 L365.0,492.0 L358.0,475.0 L355.1,462.2 L353.5,449.7 L343.6,436.7 L335.1,424.7 L321.4,414.5 L312.9,407.6 L306.0,396.5 L299.3,385.9 L293.6,377.3 L287.9,365.9 L283.6,358.7 L273.6,348.7 L269.7,345.0 L264.0,338.7 L248.3,333.0 L231.1,327.3 L221.1,323.0 L215.4,311.6 L213.0,304.0 L205.0,280.0 L197.0,256.0 L191.7,240.0 L178.3,224.0 L175.7,222.7Z" fill="#c8c8c8" style="mix-blend-mode:multiply"/>
<path d="M175.7,222.7 C176.1,222.9 175.6,221.1 178.3,224.0 C181.0,226.9 188.6,234.7 191.7,240.0 C194.8,245.3 194.8,249.3 197.0,256.0 C199.2,262.7 202.3,272.0 205.0,280.0 C207.7,288.0 211.3,298.7 213.0,304.0 C214.7,309.3 214.1,308.4 215.4,311.6 C216.8,314.8 218.5,320.4 221.1,323.0 C223.7,325.6 226.6,325.6 231.1,327.3 C235.6,329.0 242.8,331.1 248.3,333.0 C253.8,334.9 260.4,336.7 264.0,338.7 C267.6,340.7 268.1,343.3 269.7,345.0 C271.3,346.7 271.3,346.4 273.6,348.7 C275.9,351.0 281.2,355.8 283.6,358.7 C286.0,361.6 286.2,362.8 287.9,365.9 C289.6,369.0 291.7,374.0 293.6,377.3 C295.5,380.6 297.2,382.7 299.3,385.9 C301.4,389.1 303.7,392.9 306.0,396.5 C308.3,400.1 310.3,404.6 312.9,407.6 C315.5,410.6 317.7,411.6 321.4,414.5 C325.1,417.4 331.4,421.0 335.1,424.7 C338.8,428.4 340.5,432.5 343.6,436.7 C346.7,440.9 351.6,445.4 353.5,449.7 C355.4,453.9 354.8,460.1 355.1,462.2" fill="none" stroke="#333" stroke-width="1.6" stroke-dasharray="10 6"/>
<path d="M116.5,209.5 L192.0,191.3" fill="none" stroke="#333" stroke-width="1.6" stroke-dasharray="10 6"/>
<path d="M116.5,209.5 L175.7,222.7" fill="none" stroke="#333" stroke-width="1.6" stroke-dasharray="10 6"/>
<path d="M335.0,299.0 C333.5,297.8 324.7,291.5 325.9,291.5 C327.1,291.5 336.4,296.0 342.0,299.0 C347.6,302.0 354.8,306.4 359.6,309.6 C364.4,312.8 367.8,313.9 371.0,318.0 C374.2,322.1 376.4,329.6 378.6,334.4 C380.8,339.1 382.5,342.5 384.1,346.5 C385.8,350.5 387.8,356.6 388.5,358.6" fill="none" stroke="#333" stroke-width="1.6" stroke-dasharray="10 6"/>
<path d="M387.5,394.0 C388.9,395.8 392.2,400.3 396.0,405.0 C399.8,409.7 404.9,415.9 410.0,422.0 C415.1,428.1 423.7,438.2 426.4,441.4" fill="none" stroke="#333" stroke-width="1.6" stroke-dasharray="10 6"/>
<path d="M119.7,173.3 C122.8,176.0 132.5,184.0 138.3,189.3 C144.1,194.6 149.9,201.3 154.3,205.3 C158.8,209.3 161.4,210.6 165.0,213.3 C168.6,216.0 173.9,220.0 175.7,221.3" fill="none" stroke="#a0a0a0" stroke-width="2.4" stroke-linecap="round"/>
<path d="M127.7,177.3 C130.4,180.2 139.7,188.7 143.7,194.7 C147.7,200.7 149.7,207.5 151.7,213.3 C153.7,219.1 154.4,224.9 155.7,229.3 C157.0,233.8 156.8,234.7 159.7,240.0 C162.6,245.3 168.6,254.2 173.0,261.3 C177.4,268.4 182.3,275.4 186.3,282.7 C190.3,290.0 195.2,301.5 197.0,305.3" fill="none" stroke="#a0a0a0" stroke-width="2.4" stroke-linecap="round"/>
<path d="M134.0,97.0 C136.3,101.7 143.2,114.8 148.0,125.0 C152.8,135.2 158.4,149.5 163.0,158.0 C167.6,166.5 172.2,170.8 175.7,176.0 C179.1,181.2 182.4,187.1 183.7,189.3" fill="none" stroke="#a0a0a0" stroke-width="2.4" stroke-linecap="round"/>
<path d="M141.0,97.0 C143.5,102.2 150.8,117.5 156.0,128.0 C161.2,138.5 166.9,150.2 172.0,160.0 C177.1,169.8 183.9,182.2 186.3,186.7" fill="none" stroke="#a0a0a0" stroke-width="2.4" stroke-linecap="round"/>
<path d="M180.0,190.4 C184.2,193.7 195.7,202.0 205.0,210.0 C214.3,218.0 230.6,233.6 235.7,238.3" fill="none" stroke="#a0a0a0" stroke-width="2.4" stroke-linecap="round"/>
<path d="M101.4,325.4 C105.1,328.6 116.6,338.6 123.8,344.8 C131.0,351.0 137.7,356.7 144.7,362.7 C151.7,368.7 158.6,374.1 165.6,380.6 C172.6,387.1 182.8,397.8 186.5,401.5 C190.2,405.2 187.8,402.8 188.0,403.0" fill="none" stroke="#a0a0a0" stroke-width="2.4" stroke-linecap="round"/>
<path d="M156.6,312.0 C157.1,315.0 158.8,323.9 159.6,329.9 C160.3,335.9 159.1,341.3 161.1,347.8 C163.1,354.3 167.6,361.7 171.6,368.7 C175.6,375.7 182.3,383.9 185.0,389.6 C187.7,395.3 187.5,400.8 188.0,403.0" fill="none" stroke="#a0a0a0" stroke-width="2.4" stroke-linecap="round"/>
<path d="M170.1,323.9 C170.6,327.4 171.8,337.8 173.0,344.8 C174.2,351.8 175.2,358.2 177.5,365.7 C179.8,373.2 185.0,385.6 186.5,389.6" fill="none" stroke="#a0a0a0" stroke-width="2.4" stroke-linecap="round"/>
<path d="M188.0,403.0 C188.8,406.7 190.8,416.7 192.5,425.4 C194.2,434.1 197.9,445.8 198.4,455.2 C198.9,464.6 195.9,477.5 195.4,482.0" fill="none" stroke="#a0a0a0" stroke-width="2.4" stroke-linecap="round"/>
<path d="M157.0,312.0 L159.7,330.0" fill="none" stroke="#a0a0a0" stroke-width="2.4" stroke-linecap="round"/>
<path d="M170.3,322.7 L171.5,330.0" fill="none" stroke="#a0a0a0" stroke-width="2.4" stroke-linecap="round"/>
<path d="M286.4,265.4 C289.5,267.5 299.2,273.6 305.0,278.0 C310.8,282.4 318.2,289.8 320.9,292.1" fill="none" stroke="#444" stroke-width="1.3"/>
<path d="M150.5,98.0 C153.8,106.3 163.5,131.6 170.0,148.0 C176.5,164.4 186.2,188.3 189.4,196.4" fill="none" stroke="#444" stroke-width="1.3"/>
<path d="M131.5,343.0 L150.0,356.0 L146.0,349.5" fill="none" stroke="#a0a0a0" stroke-width="2" stroke-linejoin="miter"/>
<path d="M155.0,366.0 L136.5,353.0 L141.0,359.5" fill="none" stroke="#a0a0a0" stroke-width="2" stroke-linejoin="miter"/>
<path d="M136.0,100.0 L146.0,124.0" fill="none" stroke="#a0a0a0" stroke-width="2" stroke-linejoin="miter"/>
<path d="M136.0,100.0 L135.5,107.5" fill="none" stroke="#a0a0a0" stroke-width="2" stroke-linejoin="miter"/>
<path d="M436,452 L444,455 L446,462 L438,464 L434,458Z" fill="#c8c8c8" style="mix-blend-mode:multiply"/>
<path d="M194.0,428.4 L222.3,482.0" fill="none" stroke="#999" stroke-width="4"/>
<path d="M557.6,96.6 C554.7,99.2 547.1,105.9 540.0,112.0 C532.9,118.1 522.5,127.0 515.0,133.0 C507.5,138.9 502.6,143.3 494.9,147.7 C487.1,152.1 475.1,154.5 468.5,159.2 C461.9,163.9 459.7,169.2 455.3,175.8 C450.9,182.4 445.0,192.2 442.0,198.8 C439.0,205.4 438.0,209.2 437.2,215.3 C436.4,221.4 438.6,229.6 437.2,235.1 C435.8,240.6 434.2,243.9 429.0,248.3 C423.8,252.7 414.1,257.6 405.9,261.5 C397.6,265.4 388.5,267.3 379.5,271.4 C370.5,275.5 360.7,279.7 351.8,286.3 C342.9,292.9 330.2,306.8 325.9,310.9" fill="none" stroke="#999" stroke-width="4.2"/>
<path d="M441.3,439.1 C442.9,436.3 447.6,426.2 450.7,422.1 C453.8,418.0 455.7,417.1 460.1,414.6 C464.5,412.1 471.8,408.8 477.1,407.1 C482.4,405.4 486.8,405.7 492.1,404.3 C497.4,402.9 503.8,400.8 509.1,398.6 C514.5,396.4 517.9,393.6 524.2,391.1 C530.5,388.6 539.9,384.6 546.8,383.5 C553.7,382.4 560.0,384.0 565.6,384.5 C571.2,385.0 576.9,387.3 580.7,386.4 C584.5,385.4 586.6,380.9 588.2,378.8 C589.8,376.8 588.2,375.4 590.1,374.1 C592.0,372.9 597.9,371.8 599.5,371.3" fill="none" stroke="#999" stroke-width="2.6"/>
<path d="M445.1,457.9 C447.0,454.8 452.6,444.6 456.4,439.1 C460.2,433.6 463.3,428.4 467.7,425.0 C472.1,421.6 477.7,419.8 482.7,418.4 C487.7,417.0 493.1,417.8 497.8,416.5 C502.5,415.2 506.6,413.2 511.0,410.8 C515.4,408.4 519.5,404.6 524.2,402.4 C528.9,400.2 533.6,398.3 539.2,397.7 C544.9,397.1 551.8,397.7 558.1,398.6 C564.4,399.5 569.8,401.2 576.9,403.3 C584.0,405.4 596.6,409.7 600.5,411.0" fill="none" stroke="#999" stroke-width="2.6"/>
<path d="M262.3,100.0 L261.0,160.0 L258.5,225.0" fill="none" stroke="#000" stroke-width="1.4" stroke-dasharray="14 3"/>
<path d="M259.5,224.8 L258.8,227.4 L260.0,229.6 L259.8,232.3 L261.6,233.7 L264.6,233.0 L267.0,236.9 L262.7,237.0 L262.6,239.3 L264.7,240.9 L264.7,244.9 L268.1,244.9 L268.3,247.6 L270.7,248.6 L272.9,250.3 L276.1,249.6 L277.7,252.4 L279.2,254.6 L282.0,254.9 L283.6,257.1 L285.6,258.1 L289.5,259.3 L289.4,263.8 L292.0,265.0 L294.9,265.7 L298.3,267.2 L296.4,271.0 L299.0,272.6 L299.3,275.6 L300.2,277.7 L302.1,279.0 L302.9,281.2 L305.9,281.6 L305.9,284.0 L308.0,285.6 L306.9,288.4 L307.8,290.4 L311.3,291.1 L312.8,293.6 L314.1,296.2 L313.3,300.5 L316.7,301.0 L317.9,303.4 L320.5,304.4 L321.6,306.5 L323.6,307.7 L325.3,309.0 L326.8,311.2 L328.8,312.5 L330.1,315.0 L332.6,315.6 L334.0,317.7 L336.0,318.7 L337.6,320.4 L340.2,320.5 L343.3,320.5 L343.4,324.1 L345.0,325.9 L347.2,327.4 L349.9,327.3 L351.7,328.9 L354.7,328.2 L355.3,331.2 L357.9,332.4 L360.7,333.5 L363.2,334.8 L363.2,339.3 L364.8,341.6 L369.3,342.1 L368.2,345.9 L370.9,347.5 L372.9,348.9 L374.5,351.0 L375.3,354.2 L376.9,356.0 L380.9,355.6 L380.7,358.8 L383.9,359.1 L383.4,362.6 L386.5,363.5 L386.9,367.1 L388.4,369.0 L391.2,370.0 L390.8,373.1 L394.4,373.6 L396.4,375.1 L395.9,378.2 L399.0,378.8 L400.1,381.2 L401.0,383.8 L402.0,386.3 L404.9,386.9 L407.1,388.2 L407.0,392.3 L410.4,392.2 L410.6,395.7 L412.4,397.1 L415.5,397.1 L416.9,398.8 L418.3,400.5 L419.6,402.5 L421.9,404.0 L424.1,405.6 L426.0,407.4 L426.5,410.0 L429.3,410.7 L430.9,412.3 L431.5,414.9 L434.6,415.8 L435.0,418.1 L433.0,421.0 L435.3,422.8 L435.8,425.0 L438.2,427.0 L436.9,429.6 L436.6,431.9 L439.1,434.0 L437.0,436.5 L437.1,438.8 L439.6,440.8 L437.6,443.3 L438.5,445.4 L437.8,447.8 L439.4,449.9 L438.2,452.4 L438.6,454.8 L441.9,456.7 L442.2,459.2 L440.3,462.3 L440.1,464.8 L443.6,465.8 L443.7,468.2 L444.1,470.6 L446.8,471.7 L448.5,473.7 L450.5,475.5 L452.1,477.3 L453.2,479.7 L455.7,480.5 L457.3,482.1 L458.2,484.7 L461.8,483.6 L462.5,486.5" fill="none" stroke="#000" stroke-width="1.4"/>
<path d="M199.7,99.2 C201.2,102.5 205.6,112.4 208.8,118.7 C212.1,125.0 216.0,131.4 219.2,136.8 C222.4,142.2 224.8,146.7 228.2,151.0 C231.6,155.3 235.4,157.9 239.9,162.7 C244.4,167.5 251.1,175.3 255.4,179.6 C259.7,183.9 261.1,184.6 265.8,188.6 C270.5,192.6 276.3,197.4 283.6,203.3 C290.9,209.2 301.7,217.9 309.5,224.0 C317.3,230.1 323.8,234.8 330.3,239.6 C336.8,244.3 342.4,248.6 348.4,252.5 C354.4,256.4 362.1,260.3 366.5,262.9 C370.9,265.5 371.1,265.1 375.1,268.1 C379.1,271.1 385.9,276.8 390.7,281.1 C395.4,285.4 398.0,288.8 403.6,294.0 C409.2,299.2 419.2,306.1 424.4,312.2 C429.6,318.2 431.2,323.4 434.7,330.3 C438.1,337.2 441.7,345.4 445.1,353.6 C448.6,361.8 452.5,372.1 455.4,379.5 C458.3,386.9 460.7,391.9 462.5,398.0 C464.3,404.1 465.1,410.1 466.0,416.1 C466.9,422.1 467.6,427.3 467.9,434.2 C468.2,441.1 467.3,451.0 467.9,457.6 C468.5,464.2 468.5,469.2 471.5,473.9 C474.5,478.6 483.0,482.9 485.9,485.6 C488.8,488.3 488.5,489.3 489.0,490.0" fill="none" stroke="#000" stroke-width="4.6"/>
<path d="M234.7,180.9 L241.2,166.6 L249.5,174.9Z" fill="#000"/><path d="M324.5,254.5 L332.3,239.2 L342.5,248.2Z" fill="#000"/><path d="M425.3,348.6 L434.2,336.5 L441.6,352.5Z" fill="#000"/><path d="M451.2,453.5 L464.3,446.3 L464.5,460.0Z" fill="#000"/>
<path d="M182.0,195.5 C184.1,198.6 190.7,209.4 194.7,213.9 C198.7,218.4 200.3,218.9 206.0,222.4 C211.7,225.9 221.5,230.4 228.6,235.1 C235.7,239.8 242.8,245.7 248.4,250.6 C254.1,255.5 257.8,259.5 262.5,264.7 C267.2,269.9 272.0,276.0 276.7,281.7 C281.4,287.4 286.1,292.5 290.8,298.6 C295.5,304.7 300.3,312.4 305.0,318.4 C309.7,324.4 315.1,330.0 319.0,334.5 C322.9,339.0 324.8,341.6 328.5,345.5 C332.2,349.4 337.2,354.2 341.2,358.2 C345.2,362.2 349.2,365.2 352.5,369.5 C355.8,373.8 358.4,379.0 361.0,383.7 C363.6,388.4 365.9,393.1 368.0,397.8 C370.1,402.5 372.1,407.8 373.7,411.9 C375.2,416.0 375.8,418.9 377.3,422.2 C378.9,425.5 381.0,428.7 383.0,431.7 C385.0,434.7 387.1,437.1 389.5,440.1 C391.9,443.1 394.6,446.2 397.1,449.5 C399.6,452.8 402.5,457.1 404.6,459.9 C406.8,462.7 406.7,462.7 410.0,466.5 C413.3,470.3 422.1,480.2 424.5,482.9" fill="none" stroke="#a020f0" stroke-width="4.8"/>
<path d="M193.3,191.3 C198.2,194.1 215.2,202.1 223.0,208.2 C230.8,214.3 234.3,221.4 240.0,228.0 C245.7,234.6 251.4,241.7 257.0,247.8 C262.6,253.9 268.2,259.5 273.8,264.7 C279.4,269.9 285.2,273.2 290.8,278.9 C296.4,284.5 302.1,291.6 307.7,298.6 C313.3,305.7 320.8,313.6 324.7,321.2 C328.6,328.8 329.0,337.9 331.3,344.1 C333.6,350.3 336.0,353.5 338.4,358.2 C340.8,362.9 343.3,367.9 345.4,372.4 C347.5,376.9 349.2,380.9 351.1,385.1 C353.0,389.3 354.8,393.3 356.7,397.8 C358.6,402.3 360.8,407.9 362.4,411.9 C364.0,415.8 364.9,418.7 366.5,421.5 C368.1,424.3 369.3,425.7 371.7,428.8 C374.1,431.9 378.0,437.0 381.1,440.1 C384.2,443.2 387.2,445.3 390.5,447.7 C393.8,450.1 397.6,452.3 400.8,454.3 C404.1,456.3 406.1,456.8 410.0,459.9 C413.9,463.0 420.9,470.0 424.2,473.2 C427.5,476.4 429.0,478.3 430.0,479.3" fill="none" stroke="#0000ff" stroke-width="4.8"/>
<path d="M140.2,98.0 C142.6,101.9 149.7,113.3 154.4,121.3 C159.2,129.3 163.5,137.5 168.7,145.9 C173.9,154.3 179.9,164.5 185.5,171.8 C191.1,179.2 198.9,183.8 202.3,190.0 C205.7,196.2 202.2,202.9 206.0,209.0 C209.8,215.1 218.4,220.8 225.3,226.6 C232.2,232.3 240.1,237.4 247.4,243.5 C254.8,249.6 263.1,256.4 269.4,262.9 C275.6,269.4 279.7,275.4 284.9,282.3 C290.1,289.2 294.7,297.3 300.5,304.4 C306.3,311.5 313.0,318.5 319.9,325.0 C326.8,331.5 335.2,336.8 342.0,343.5 C348.8,350.2 354.5,357.9 360.8,365.5 C367.1,373.1 374.4,381.2 380.0,389.0 C385.6,396.8 391.2,404.0 394.4,412.5 C397.6,421.0 395.9,430.9 399.2,440.0 C402.5,449.1 409.4,459.5 414.0,467.0 C418.6,474.5 423.8,481.2 426.5,485.0 C429.2,488.8 429.4,489.2 430.0,490.0" fill="none" stroke="#000" stroke-width="8.5" stroke-dasharray="12 14.5"/>
<path d="M286.4,292.1 L304.6,271.5" stroke="#0a3a0a" stroke-width="2.9" fill="none"/><path d="M309.2,266.2 L307.2,273.8 L301.9,269.1Z" fill="#00ff00" stroke="#0a3a0a" stroke-width="1"/><path d="M286.4,292.1 L304.6,271.5" stroke="#00ff00" stroke-width="1.6" fill="none"/>
<path d="M270.7,329.8 L276.9,304.4" stroke="#000" stroke-width="3.6" fill="none"/><path d="M278.5,297.6 L280.3,305.2 L273.5,303.6Z" fill="#00ff00" stroke="#000" stroke-width="1.4"/><path d="M270.7,329.8 L276.9,304.4" stroke="#00ff00" stroke-width="1.4" stroke-dasharray="2.4 2.2" fill="none"/>
<path d="M285.6,331.3 L293.4,311.5" stroke="#000" stroke-width="3.6" fill="none"/><path d="M296.0,305.0 L296.7,312.8 L290.2,310.2Z" fill="#00ff00" stroke="#000" stroke-width="1.4"/><path d="M285.6,331.3 L293.4,311.5" stroke="#00ff00" stroke-width="1.4" stroke-dasharray="2.4 2.2" fill="none"/>
<path d="M305.2,334.5 L322.5,300.0" stroke="#000" stroke-width="3.6" fill="none"/><path d="M325.6,293.7 L325.6,301.5 L319.3,298.4Z" fill="#00ff00" stroke="#000" stroke-width="1.4"/><path d="M305.2,334.5 L322.5,300.0" stroke="#00ff00" stroke-width="1.4" stroke-dasharray="2.4 2.2" fill="none"/>
<path d="M328.8,337.6 L339.4,298.8" stroke="#0a3a0a" stroke-width="2.9" fill="none"/><path d="M341.3,292.1 L342.8,299.8 L336.1,297.9Z" fill="#00ff00" stroke="#0a3a0a" stroke-width="1"/><path d="M328.8,337.6 L339.4,298.8" stroke="#00ff00" stroke-width="1.6" fill="none"/>
<path d="M324.7,360.8 L342.2,339.5" stroke="#000" stroke-width="3.6" fill="none"/><path d="M346.7,334.1 L344.9,341.7 L339.5,337.3Z" fill="#00ff00" stroke="#000" stroke-width="1.4"/><path d="M324.7,360.8 L342.2,339.5" stroke="#00ff00" stroke-width="1.4" stroke-dasharray="2.4 2.2" fill="none"/>
<path d="M302.8,361.3 L315.7,344.5" stroke="#000" stroke-width="3.6" fill="none"/><path d="M320.0,339.0 L318.5,346.7 L313.0,342.4Z" fill="#00ff00" stroke="#000" stroke-width="1.4"/><path d="M302.8,361.3 L315.7,344.5" stroke="#00ff00" stroke-width="1.4" stroke-dasharray="2.4 2.2" fill="none"/>
<path d="M334.9,392.2 L371.3,370.7" stroke="#0a3a0a" stroke-width="2.9" fill="none"/><path d="M377.3,367.1 L373.1,373.7 L369.5,367.7Z" fill="#00ff00" stroke="#0a3a0a" stroke-width="1"/><path d="M334.9,392.2 L371.3,370.7" stroke="#00ff00" stroke-width="1.6" fill="none"/>
<path d="M354.4,386.0 L391.6,376.7" stroke="#0a3a0a" stroke-width="2.9" fill="none"/><path d="M398.4,375.0 L392.5,380.1 L390.8,373.3Z" fill="#00ff00" stroke="#0a3a0a" stroke-width="1"/><path d="M354.4,386.0 L391.6,376.7" stroke="#00ff00" stroke-width="1.6" fill="none"/>
<path d="M329.4,412.0 L375.0,412.0" stroke="#0a3a0a" stroke-width="2.9" fill="none"/><path d="M382.0,412.0 L375.0,415.5 L375.0,408.5Z" fill="#00ff00" stroke="#0a3a0a" stroke-width="1"/><path d="M329.4,412.0 L375.0,412.0" stroke="#00ff00" stroke-width="1.6" fill="none"/>
<path d="M334.7,457.5 L370.1,438.8" stroke="#0a3a0a" stroke-width="2.9" fill="none"/><path d="M376.3,435.5 L371.7,441.9 L368.5,435.7Z" fill="#00ff00" stroke="#0a3a0a" stroke-width="1"/><path d="M334.7,457.5 L370.1,438.8" stroke="#00ff00" stroke-width="1.6" fill="none"/>
<path d="M355.9,455.1 L407.3,440.3" stroke="#000" stroke-width="3.6" fill="none"/><path d="M414.0,438.4 L408.2,443.7 L406.3,437.0Z" fill="#00ff00" stroke="#000" stroke-width="1.4"/><path d="M355.9,455.1 L407.3,440.3" stroke="#00ff00" stroke-width="1.4" stroke-dasharray="2.4 2.2" fill="none"/>
<path d="M382.6,453.2 L394.3,445.0" stroke="#000" stroke-width="3.6" fill="none"/><path d="M400.0,441.0 L396.3,447.9 L392.3,442.2Z" fill="#00ff00" stroke="#000" stroke-width="1.4"/><path d="M382.6,453.2 L394.3,445.0" stroke="#00ff00" stroke-width="1.4" stroke-dasharray="2.4 2.2" fill="none"/>
<path d="M396.0,449.7 L429.1,442.7" stroke="#000" stroke-width="3.6" fill="none"/><path d="M436.0,441.3 L429.9,446.2 L428.4,439.3Z" fill="#00ff00" stroke="#000" stroke-width="1.4"/><path d="M396.0,449.7 L429.1,442.7" stroke="#00ff00" stroke-width="1.4" stroke-dasharray="2.4 2.2" fill="none"/>
<path d="M350.4,459.9 L329.8,492.1" stroke="#0a3a0a" stroke-width="2.9" fill="none"/><path d="M326.0,498.0 L326.8,490.2 L332.7,494.0Z" fill="#00ff00" stroke="#0a3a0a" stroke-width="1"/><path d="M350.4,459.9 L329.8,492.1" stroke="#00ff00" stroke-width="1.6" fill="none"/>
<path d="M353.5,481.0 L393.0,475.7" stroke="#000" stroke-width="3.6" fill="none"/><path d="M399.9,474.8 L393.4,479.2 L392.5,472.3Z" fill="#00ff00" stroke="#000" stroke-width="1.4"/><path d="M353.5,481.0 L393.0,475.7" stroke="#00ff00" stroke-width="1.4" stroke-dasharray="2.4 2.2" fill="none"/>
<path d="M389.7,488.9 L403.3,476.3" stroke="#000" stroke-width="3.6" fill="none"/><path d="M408.5,471.6 L405.7,478.9 L401.0,473.8Z" fill="#00ff00" stroke="#000" stroke-width="1.4"/><path d="M389.7,488.9 L403.3,476.3" stroke="#00ff00" stroke-width="1.4" stroke-dasharray="2.4 2.2" fill="none"/>
<path d="M320.6,461.2 L306.8,493.6" stroke="#0a3a0a" stroke-width="2.9" fill="none"/><path d="M304.0,500.0 L303.5,492.2 L310.0,494.9Z" fill="#00ff00" stroke="#0a3a0a" stroke-width="1"/><path d="M320.6,461.2 L306.8,493.6" stroke="#00ff00" stroke-width="1.6" fill="none"/>
<path d="M350.7,460.0 L324.3,494.4" stroke="#0a3a0a" stroke-width="2.9" fill="none"/><path d="M320.0,500.0 L321.5,492.3 L327.0,496.6Z" fill="#00ff00" stroke="#0a3a0a" stroke-width="1"/><path d="M350.7,460.0 L324.3,494.4" stroke="#00ff00" stroke-width="1.6" fill="none"/>
<path d="M410.8,488.1 L434.1,466.6" stroke="#000" stroke-width="3.6" fill="none"/><path d="M439.2,461.8 L436.4,469.1 L431.7,464.0Z" fill="#00ff00" stroke="#000" stroke-width="1.4"/><path d="M410.8,488.1 L434.1,466.6" stroke="#00ff00" stroke-width="1.4" stroke-dasharray="2.4 2.2" fill="none"/>
<path d="M439.2,488.1 L446.5,465.3" stroke="#000" stroke-width="3.6" fill="none"/><path d="M448.6,458.6 L449.8,466.3 L443.1,464.2Z" fill="#00ff00" stroke="#000" stroke-width="1.4"/><path d="M439.2,488.1 L446.5,465.3" stroke="#00ff00" stroke-width="1.4" stroke-dasharray="2.4 2.2" fill="none"/>
<path d="M461.2,486.0 L468.6,462.2" stroke="#000" stroke-width="3.6" fill="none"/><path d="M470.7,455.5 L472.0,463.2 L465.3,461.1Z" fill="#00ff00" stroke="#000" stroke-width="1.4"/><path d="M461.2,486.0 L468.6,462.2" stroke="#00ff00" stroke-width="1.4" stroke-dasharray="2.4 2.2" fill="none"/>
<path d="M516.6,425.0 L498.8,453.0" stroke="#0a3a0a" stroke-width="2.9" fill="none"/><path d="M495.0,458.9 L495.8,451.1 L501.7,454.9Z" fill="#00ff00" stroke="#0a3a0a" stroke-width="1"/><path d="M516.6,425.0 L498.8,453.0" stroke="#00ff00" stroke-width="1.6" fill="none"/>
<path d="M121.4,439.1 V444.2 H166 V439.1" fill="none" stroke="#000" stroke-width="2.4"/></g>
<path d="M123.6,93.6 L131.1,94.4 L138.6,95.1 L146.1,95.9 L153.6,96.6 L161.2,97.2 L168.7,97.9 L176.2,98.5 L183.8,99.1 L191.3,99.7 L198.8,100.2 L206.4,100.7 L213.9,101.2 L221.4,101.7 L229.0,102.1 L236.5,102.6 L244.1,103.0 L251.6,103.3 L259.2,103.7 L266.7,104.0 L274.3,104.3 L281.8,104.5 L289.4,104.8 L296.9,105.0 L304.5,105.2 L312.0,105.3 L319.6,105.4 L327.1,105.5 L334.7,105.6 L342.2,105.7 L349.8,105.7 L357.3,105.7 L364.9,105.7 L372.4,105.6 L380.0,105.6 L387.6,105.5 L395.1,105.3 L402.7,105.2 L410.2,105.0 L417.8,104.8 L425.3,104.6 L432.9,104.3 L440.4,104.0 L448.0,103.7 L455.5,103.4 L463.1,103.0 L470.6,102.6 L478.1,102.2 L485.7,101.8 L493.2,101.3 L500.8,100.8 L508.3,100.3 L515.8,99.7 L523.4,99.2 L530.9,98.6 L538.4,98.0 L546.0,97.3 L553.5,96.6 L561.0,95.9 L568.5,95.2 L606.1,478.0 L597.3,478.9 L588.4,479.7 L579.6,480.5 L570.7,481.2 L561.9,482.0 L553.0,482.7 L544.2,483.3 L535.3,484.0 L526.5,484.6 L517.6,485.2 L508.8,485.7 L499.9,486.2 L491.0,486.7 L482.2,487.2 L473.3,487.6 L464.4,488.0 L455.6,488.3 L446.7,488.7 L437.8,489.0 L428.9,489.3 L420.1,489.5 L411.2,489.7 L402.3,489.9 L393.4,490.0 L384.6,490.2 L375.7,490.3 L366.8,490.3 L357.9,490.3 L349.0,490.3 L340.2,490.3 L331.3,490.2 L322.4,490.2 L313.5,490.0 L304.7,489.9 L295.8,489.7 L286.9,489.5 L278.0,489.2 L269.2,489.0 L260.3,488.6 L251.4,488.3 L242.6,487.9 L233.7,487.5 L224.8,487.1 L215.9,486.7 L207.1,486.2 L198.2,485.6 L189.4,485.1 L180.5,484.5 L171.6,483.9 L162.8,483.3 L153.9,482.6 L145.1,481.9 L136.2,481.1 L127.4,480.4 L118.6,479.6 L109.7,478.8 L100.9,477.9 L92.0,477.0 L83.2,476.1Z" fill="none" stroke="#000" stroke-width="3"/>
<path d="M138.9,95.1L140.0,83.2M101.2,477.9L100.0,489.9M200.1,100.3L200.5,94.3M173.2,484.0L172.8,490.0M261.5,103.8L262.0,91.8M245.3,488.1L244.8,500.0M323.0,105.5L323.0,99.5M317.5,490.1L317.4,496.1M384.4,105.5L384.3,93.5M389.8,490.1L389.9,502.1M445.9,103.8L445.6,97.8M462.0,488.1L462.2,494.1M507.3,100.4L506.4,88.4M534.1,484.1L534.9,496.0M568.5,95.2L567.9,89.2M606.1,478.0L606.7,484.0M83.2,476.1L77.3,475.5M606.1,478.0L612.1,477.4M89.0,421.4L77.1,420.1M600.7,423.2L612.7,422.1M94.8,366.7L88.8,366.1M595.4,368.5L601.3,367.9M100.5,312.1L88.6,310.8M590.0,313.9L601.9,312.7M106.3,257.5L100.3,256.8M584.6,259.2L590.6,258.6M112.0,202.9L100.1,201.6M579.3,204.6L591.2,203.4M117.8,148.2L111.8,147.6M573.9,149.9L579.9,149.3M123.6,93.6L111.6,92.3M568.5,95.2L580.5,94.0" fill="none" stroke="#000" stroke-width="1.7"/>
<rect x="692.5" y="385.7" width="12" height="9.5" fill="rgb(255,255,238)"/>
<rect x="692.5" y="376.5" width="12" height="9.5" fill="rgb(255,255,204)"/>
<rect x="692.5" y="367.3" width="12" height="9.5" fill="rgb(255,255,170)"/>
<rect x="692.5" y="358.1" width="12" height="9.5" fill="rgb(255,255,136)"/>
<rect x="692.5" y="348.9" width="12" height="9.5" fill="rgb(255,255,102)"/>
<rect x="692.5" y="339.7" width="12" height="9.5" fill="rgb(255,255,68)"/>
<rect x="692.5" y="330.5" width="12" height="9.5" fill="rgb(255,255,34)"/>
<rect x="692.5" y="321.3" width="12" height="9.5" fill="rgb(255,255,0)"/>
<rect x="692.5" y="312.1" width="12" height="9.5" fill="rgb(255,232,0)"/>
<rect x="692.5" y="302.9" width="12" height="9.5" fill="rgb(255,210,0)"/>
<rect x="692.5" y="293.6" width="12" height="9.5" fill="rgb(255,187,0)"/>
<rect x="692.5" y="284.4" width="12" height="9.5" fill="rgb(255,164,0)"/>
<rect x="692.5" y="275.2" width="12" height="9.5" fill="rgb(255,142,0)"/>
<rect x="692.5" y="266.0" width="12" height="9.5" fill="rgb(255,119,0)"/>
<rect x="692.5" y="256.8" width="12" height="9.5" fill="rgb(255,96,0)"/>
<rect x="692.5" y="247.6" width="12" height="9.5" fill="rgb(255,74,0)"/>
<rect x="692.5" y="238.4" width="12" height="9.5" fill="rgb(255,51,0)"/>
<rect x="692.5" y="229.2" width="12" height="9.5" fill="rgb(255,28,0)"/>
<rect x="692.5" y="220.0" width="12" height="9.5" fill="rgb(255,6,0)"/>
<rect x="692.5" y="210.7" width="12" height="9.5" fill="rgb(238,0,0)"/>
<rect x="692.5" y="201.5" width="12" height="9.5" fill="rgb(215,0,0)"/>
<rect x="692.5" y="192.3" width="12" height="9.5" fill="rgb(193,0,0)"/>
<rect x="692.5" y="183.1" width="12" height="9.5" fill="rgb(170,0,0)"/>
<rect x="692.5" y="173.9" width="12" height="9.5" fill="rgb(147,0,0)"/>
<rect x="692.5" y="164.7" width="12" height="9.5" fill="rgb(125,0,0)"/>
<rect x="692.5" y="155.5" width="12" height="9.5" fill="rgb(102,0,0)"/>
<rect x="692.5" y="146.3" width="12" height="9.5" fill="rgb(79,0,0)"/>
<rect x="692.5" y="137.1" width="12" height="9.5" fill="rgb(57,0,0)"/>
<rect x="692.5" y="127.9" width="12" height="9.5" fill="rgb(34,0,0)"/>
<rect x="692.5" y="118.7" width="12" height="9.5" fill="rgb(11,0,0)"/>
<path d="M692.6,121 V392.2 M704.4,121 V392.2" stroke="#000" stroke-width="2.8"/>
<path d="M689.9,121 L698.5,111.8 L707.8,121Z" fill="#000"/>
<path d="M690.8,392.2 L698.5,400.6 L706.4,392.2Z" fill="#fff" stroke="#000" stroke-width="2"/>
<path d="M705,164.7h13.7M705,256.8h13.7M705,348.9h13.7" stroke="#000" stroke-width="1.7"/>
<rect x="69.1" y="579.7" width="49.7" height="7.1" fill="#a020f0"/>
<rect x="177.8" y="579.7" width="49.9" height="7.1" fill="#0000ff"/>
<path d="M288.5,581.9 H305 V577.3 L316.3,583.8 L305,590.3 V585.7 H288.5Z" fill="#00ff00" stroke="#1a5a1a" stroke-width="0.9"/>
<path d="M505.6,581 H556" stroke="#000" stroke-width="7" stroke-dasharray="9.7 9.6"/>
<text transform="translate(910.20,65.17) scale(1.0291,1)" x="-7.75" y="9.87" font-size="28.20" font-weight="normal" fill="#000" font-family="Liberation Sans, sans-serif" >4</text>
<text transform="translate(910.20,152.30) scale(1.1409,1)" x="-7.90" y="9.87" font-size="28.20" font-weight="normal" fill="#000" font-family="Liberation Sans, sans-serif" >2</text>
<text transform="translate(910.20,239.43) scale(1.0934,1)" x="-7.90" y="9.73" font-size="28.20" font-weight="normal" fill="#000" font-family="Liberation Sans, sans-serif" >0</text>
<text transform="translate(901.55,326.57) scale(1.0945,1)" x="-16.07" y="9.87" font-size="28.20" font-weight="normal" fill="#000" font-family="Liberation Sans, sans-serif" >−2</text>
<text transform="translate(901.55,413.70) scale(1.0739,1)" x="-16.36" y="9.87" font-size="28.20" font-weight="normal" fill="#000" font-family="Liberation Sans, sans-serif" >−4</text>
<text transform="translate(901.55,500.83) scale(1.0841,1)" x="-16.21" y="9.73" font-size="28.20" font-weight="normal" fill="#000" font-family="Liberation Sans, sans-serif" >−6</text>
<text transform="translate(934.70,576.55) scale(1.0571,1)" x="-23.69" y="9.73" font-size="28.20" font-weight="normal" fill="#000" font-family="Liberation Sans, sans-serif" >600</text>
<text transform="translate(1039.36,576.55) scale(1.0504,1)" x="-23.55" y="9.73" font-size="28.20" font-weight="normal" fill="#000" font-family="Liberation Sans, sans-serif" >800</text>
<text transform="translate(1144.02,576.55)" x="-31.87" y="9.73" font-size="28.20" font-weight="normal" fill="#000" font-family="Liberation Sans, sans-serif" >1000</text>
<text transform="translate(1248.68,576.55)" x="-31.87" y="9.73" font-size="28.20" font-weight="normal" fill="#000" font-family="Liberation Sans, sans-serif" >1200</text>
<text transform="translate(1353.34,576.55)" x="-31.87" y="9.73" font-size="28.20" font-weight="normal" fill="#000" font-family="Liberation Sans, sans-serif" >1400</text>
<text transform="translate(1458.00,576.55)" x="-31.87" y="9.73" font-size="28.20" font-weight="normal" fill="#000" font-family="Liberation Sans, sans-serif" >1600</text>
<text transform="translate(1084.21,630.20)" x="0" y="0" font-size="29.60" font-weight="normal" fill="#000" font-family="Liberation Sans, sans-serif" >Temperature (°C)</text>
<text transform="translate(855.10,284.90) rotate(-90.00) scale(0.9888,1)" x="-189.88" y="7.70" font-size="29.60" font-weight="normal" fill="#000" font-family="Liberation Sans, sans-serif" >S-wave velocity anomaly (%)</text>
<text transform="translate(953.22,91.00) scale(1.0080,1)" x="0" y="0" font-size="25.30" font-weight="normal" fill="#000" font-family="Liberation Sans, sans-serif" >Craton</text>
<text transform="translate(945.85,407.00) scale(0.9858,1)" x="0" y="0" font-size="25.30" font-weight="normal" fill="#000" font-family="Liberation Sans, sans-serif" >Cordillera</text>
<text transform="translate(850.80,15.95) scale(1.0427,1)" x="-13.50" y="15.40" font-size="42.20" font-weight="bold" fill="#000" font-family="Liberation Sans, sans-serif" >b</text>
<text transform="translate(-1.77,31.50)" x="0" y="0" font-size="42.20" font-weight="bold" fill="#000" font-family="Liberation Sans, sans-serif" >a</text>
<text transform="translate(141.00,53.00) rotate(5.62) scale(1.0324,1)" x="-37.75" y="10.01" font-size="28.60" font-weight="normal" fill="#000" font-family="Liberation Sans, sans-serif" >−124°</text>
<text transform="translate(263.70,61.50) rotate(2.41) scale(1.0324,1)" x="-37.75" y="9.87" font-size="28.60" font-weight="normal" fill="#000" font-family="Liberation Sans, sans-serif" >−120°</text>
<text transform="translate(384.60,63.55) rotate(-0.79) scale(1.0617,1)" x="-36.75" y="9.87" font-size="28.60" font-weight="normal" fill="#000" font-family="Liberation Sans, sans-serif" >−116°</text>
<text transform="translate(505.80,57.40) rotate(-4.00) scale(1.0617,1)" x="-36.75" y="10.01" font-size="28.60" font-weight="normal" fill="#000" font-family="Liberation Sans, sans-serif" >−112°</text>
<text transform="translate(98.60,520.20) rotate(5.62) scale(1.0324,1)" x="-37.75" y="10.01" font-size="28.60" font-weight="normal" fill="#000" font-family="Liberation Sans, sans-serif" >−124°</text>
<text transform="translate(244.50,529.50) rotate(2.41) scale(1.0324,1)" x="-37.75" y="9.87" font-size="28.60" font-weight="normal" fill="#000" font-family="Liberation Sans, sans-serif" >−120°</text>
<text transform="translate(391.20,532.10) rotate(-0.79) scale(1.0617,1)" x="-36.75" y="9.87" font-size="28.60" font-weight="normal" fill="#000" font-family="Liberation Sans, sans-serif" >−116°</text>
<text transform="translate(537.90,524.80) rotate(-4.00) scale(1.0617,1)" x="-36.75" y="10.01" font-size="28.60" font-weight="normal" fill="#000" font-family="Liberation Sans, sans-serif" >−112°</text>
<text transform="translate(71.50,91.00) rotate(6.02) scale(1.0737,1)" x="-21.31" y="9.87" font-size="28.60" font-weight="normal" fill="#000" font-family="Liberation Sans, sans-serif" >56°</text>
<text transform="translate(61.25,198.80) rotate(6.02) scale(1.0737,1)" x="-21.31" y="9.87" font-size="28.60" font-weight="normal" fill="#000" font-family="Liberation Sans, sans-serif" >54°</text>
<text transform="translate(50.65,310.60) rotate(6.02) scale(1.0737,1)" x="-21.31" y="9.87" font-size="28.60" font-weight="normal" fill="#000" font-family="Liberation Sans, sans-serif" >52°</text>
<text transform="translate(38.75,417.75) rotate(6.02) scale(1.0737,1)" x="-21.31" y="9.87" font-size="28.60" font-weight="normal" fill="#000" font-family="Liberation Sans, sans-serif" >50°</text>
<text transform="translate(618.50,93.40) rotate(-5.60) scale(1.0341,1)" x="-21.31" y="9.87" font-size="28.60" font-weight="normal" fill="#000" font-family="Liberation Sans, sans-serif" >56°</text>
<text transform="translate(628.60,201.50) rotate(-5.60) scale(1.0341,1)" x="-21.31" y="9.87" font-size="28.60" font-weight="normal" fill="#000" font-family="Liberation Sans, sans-serif" >54°</text>
<text transform="translate(639.20,310.20) rotate(-5.60) scale(1.0341,1)" x="-21.31" y="9.87" font-size="28.60" font-weight="normal" fill="#000" font-family="Liberation Sans, sans-serif" >52°</text>
<text transform="translate(650.40,420.30) rotate(-5.60) scale(1.0341,1)" x="-21.31" y="9.87" font-size="28.60" font-weight="normal" fill="#000" font-family="Liberation Sans, sans-serif" >50°</text>
<text transform="translate(740.40,165.00) scale(1.0291,1)" x="-7.75" y="9.87" font-size="28.20" font-weight="normal" fill="#000" font-family="Liberation Sans, sans-serif" >4</text>
<text transform="translate(740.40,257.10) scale(1.1166,1)" x="-7.75" y="9.73" font-size="28.20" font-weight="normal" fill="#000" font-family="Liberation Sans, sans-serif" >3</text>
<text transform="translate(740.40,349.20) scale(1.1409,1)" x="-7.90" y="9.87" font-size="28.20" font-weight="normal" fill="#000" font-family="Liberation Sans, sans-serif" >2</text>
<text transform="translate(782.50,258.35) rotate(-90.00) scale(0.9876,1)" x="-136.31" y="7.70" font-size="29.60" font-weight="normal" fill="#000" font-family="Liberation Sans, sans-serif" >Gradient (%/100 km)</text>
<text transform="translate(130.25,592.60) scale(1.0067,1)" x="0" y="0" font-size="25.30" font-weight="normal" fill="#000" font-family="Liberation Sans, sans-serif" >Vp</text>
<text transform="translate(244.95,592.60) scale(0.9917,1)" x="0" y="0" font-size="25.30" font-weight="normal" fill="#000" font-family="Liberation Sans, sans-serif" >Vs</text>
<text transform="translate(326.24,590.40) scale(1.0304,1)" x="0" y="0" font-size="24.50" font-weight="normal" fill="#000" font-family="Liberation Sans, sans-serif" >2.0%/100 km</text>
<text transform="translate(562.57,588.90) scale(1.0136,1)" x="0" y="0" font-size="25.00" font-weight="normal" fill="#000" font-family="Liberation Sans, sans-serif" >RMT</text>
<text transform="translate(199.10,150.40) rotate(58.00) scale(1.0141,1)" x="-46.38" y="8.62" font-size="25.00" font-weight="normal" fill="#000" font-family="Liberation Sans, sans-serif" >RMT-TF</text>
<text transform="translate(239.90,135.50) rotate(56.00) scale(0.9543,1)" x="-25.88" y="8.62" font-size="25.00" font-weight="normal" fill="#000" font-family="Liberation Sans, sans-serif" >CDF</text>
<text transform="translate(538.60,135.60) rotate(-37.00) scale(0.9724,1)" x="-23.88" y="8.62" font-size="25.00" font-weight="normal" fill="#000" font-family="Liberation Sans, sans-serif" >STZ</text>
<text transform="translate(408.80,344.60) rotate(57.00)" x="-49.50" y="9.00" font-size="25.00" font-weight="normal" fill="#999" font-family="Liberation Sans, sans-serif" >Foreland</text>
<text transform="translate(239.50,405.00) rotate(41.00) scale(0.9740,1)" x="-54.12" y="9.00" font-size="25.00" font-weight="normal" fill="#000" font-family="Liberation Sans, sans-serif" >Cordillera</text>
<text transform="translate(518.23,423.50) scale(1.0754,1)" x="0" y="0" font-size="24.70" font-weight="normal" fill="#000" font-family="Liberation Sans, sans-serif" >VS</text>
<text transform="translate(511.35,313.95) rotate(-3.20) scale(0.9984,1)" x="-37.82" y="8.73" font-size="25.30" font-weight="normal" fill="#000" font-family="Liberation Sans, sans-serif" >Craton</text>
<text transform="translate(110.31,468.60) scale(1.0041,1)" x="0" y="0" font-size="21.00" font-weight="normal" fill="#000" font-family="Liberation Sans, sans-serif" >100 km</text>
</svg></body></html>
